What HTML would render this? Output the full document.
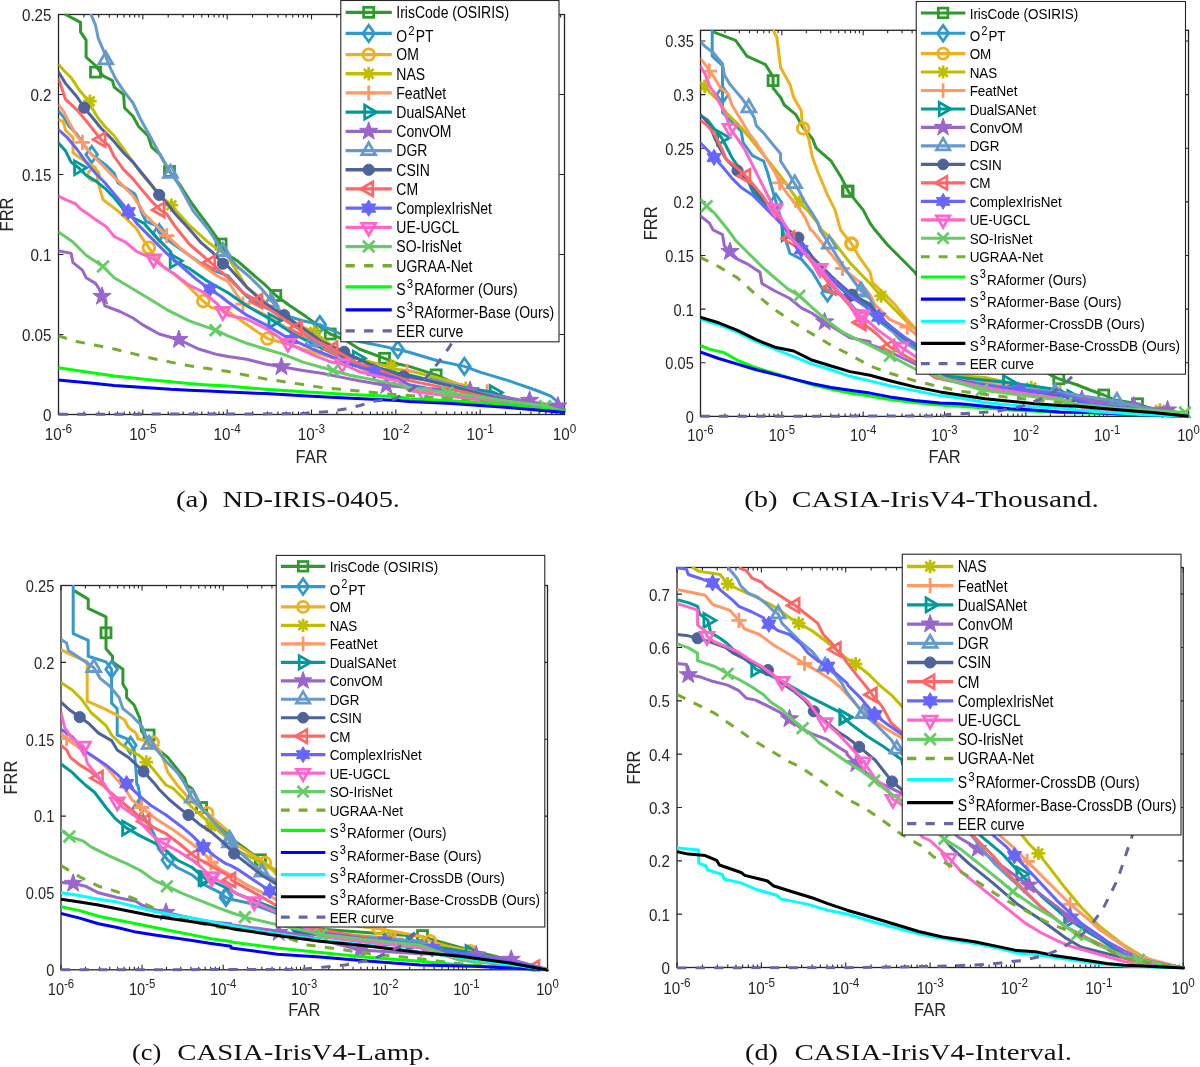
<!DOCTYPE html>
<html><head><meta charset="utf-8"><style>
html,body{margin:0;padding:0;background:#fff;width:1200px;height:1067px;overflow:hidden}
svg{display:block;will-change:transform}
text{font-family:"Liberation Sans",sans-serif}
.tk{font-size:15.2px;fill:#262626}
.lb{font-size:16.5px;fill:#262626}
.lg{font-size:13.8px;fill:#000}
.cap{font-family:"Liberation Serif",serif;font-size:24px;fill:#111}
</style></head><body>
<svg width="1200" height="1067" viewBox="0 0 1200 1067">
<rect width="1200" height="1067" fill="#fff"/>
<path d="M58.50,414.5v-5M58.50,14.5v5M83.89,414.5v-3M83.89,14.5v3M98.74,414.5v-3M98.74,14.5v3M109.27,414.5v-3M109.27,14.5v3M117.45,414.5v-3M117.45,14.5v3M124.12,414.5v-3M124.12,14.5v3M129.77,414.5v-3M129.77,14.5v3M134.66,414.5v-3M134.66,14.5v3M138.97,414.5v-3M138.97,14.5v3M142.83,414.5v-5M142.83,14.5v5M168.22,414.5v-3M168.22,14.5v3M183.07,414.5v-3M183.07,14.5v3M193.61,414.5v-3M193.61,14.5v3M201.78,414.5v-3M201.78,14.5v3M208.46,414.5v-3M208.46,14.5v3M214.10,414.5v-3M214.10,14.5v3M218.99,414.5v-3M218.99,14.5v3M223.31,414.5v-3M223.31,14.5v3M227.17,414.5v-5M227.17,14.5v5M252.55,414.5v-3M252.55,14.5v3M267.40,414.5v-3M267.40,14.5v3M277.94,414.5v-3M277.94,14.5v3M286.11,414.5v-3M286.11,14.5v3M292.79,414.5v-3M292.79,14.5v3M298.44,414.5v-3M298.44,14.5v3M303.33,414.5v-3M303.33,14.5v3M307.64,414.5v-3M307.64,14.5v3M311.50,414.5v-5M311.50,14.5v5M336.89,414.5v-3M336.89,14.5v3M351.74,414.5v-3M351.74,14.5v3M362.27,414.5v-3M362.27,14.5v3M370.45,414.5v-3M370.45,14.5v3M377.12,414.5v-3M377.12,14.5v3M382.77,414.5v-3M382.77,14.5v3M387.66,414.5v-3M387.66,14.5v3M391.97,414.5v-3M391.97,14.5v3M395.83,414.5v-5M395.83,14.5v5M421.22,414.5v-3M421.22,14.5v3M436.07,414.5v-3M436.07,14.5v3M446.61,414.5v-3M446.61,14.5v3M454.78,414.5v-3M454.78,14.5v3M461.46,414.5v-3M461.46,14.5v3M467.10,414.5v-3M467.10,14.5v3M471.99,414.5v-3M471.99,14.5v3M476.31,414.5v-3M476.31,14.5v3M480.17,414.5v-5M480.17,14.5v5M505.55,414.5v-3M505.55,14.5v3M520.40,414.5v-3M520.40,14.5v3M530.94,414.5v-3M530.94,14.5v3M539.11,414.5v-3M539.11,14.5v3M545.79,414.5v-3M545.79,14.5v3M551.44,414.5v-3M551.44,14.5v3M556.33,414.5v-3M556.33,14.5v3M560.64,414.5v-3M560.64,14.5v3M564.50,414.5v-5M564.50,14.5v5M58.5,414.50h5M564.5,414.50h-5M58.5,334.50h5M564.5,334.50h-5M58.5,254.50h5M564.5,254.50h-5M58.5,174.50h5M564.5,174.50h-5M58.5,94.50h5M564.5,94.50h-5M58.5,14.50h5M564.5,14.50h-5" stroke="#262626" stroke-width="1.1" fill="none"/><rect x="58.5" y="14.5" width="506.0" height="400.0" fill="none" stroke="#262626" stroke-width="1.3"/><clipPath id="cpa"><rect x="58.5" y="13.5" width="509.0" height="403.0"/></clipPath><g clip-path="url(#cpa)"><path d="M64.6,14.0L80.5,22.4L80.5,31.8L86.1,40.2L86.1,57.1L95.5,65.5L103.0,75.9L112.4,80.5L114.2,87.1L123.6,94.6L124.5,107.7L133.0,116.2L138.6,126.5L148.0,135.8L151.7,147.1L160.2,154.6L169.5,171.5L179.8,184.6L189.2,199.6L198.6,212.7L208.0,225.2L217.3,238.4L228.0,255.2L237.4,260.9L252.4,274.0L265.5,285.2L275.8,295.5L289.9,305.8L306.7,317.1L330.2,334.0L344.2,339.6L359.2,349.0L384.5,358.3L398.0,364.0L409.2,366.4L436.1,374.9L451.7,382.0L465.8,387.7L487.1,393.3L508.3,400.4L536.7,406.1L565.0,411.7" fill="none" stroke="#2e9a2e" stroke-width="3.0" stroke-linejoin="round"/><rect x="90.5" y="67.1" width="10.0" height="10.0" fill="none" stroke="#2e9a2e" stroke-width="2.80"/><rect x="164.5" y="166.5" width="10.0" height="10.0" fill="none" stroke="#2e9a2e" stroke-width="2.80"/><rect x="216.1" y="239.0" width="10.0" height="10.0" fill="none" stroke="#2e9a2e" stroke-width="2.80"/><rect x="270.8" y="290.5" width="10.0" height="10.0" fill="none" stroke="#2e9a2e" stroke-width="2.80"/><rect x="325.2" y="329.0" width="10.0" height="10.0" fill="none" stroke="#2e9a2e" stroke-width="2.80"/><rect x="379.5" y="353.3" width="10.0" height="10.0" fill="none" stroke="#2e9a2e" stroke-width="2.80"/><rect x="431.1" y="369.9" width="10.0" height="10.0" fill="none" stroke="#2e9a2e" stroke-width="2.80"/><path d="M58.0,110.5L63.6,117.1L69.2,126.5L76.7,134.0L84.2,145.2L91.7,154.6L99.2,160.2L106.7,165.8L114.2,173.3L118.0,182.7L129.2,190.2L134.9,193.9L140.5,208.9L142.3,214.0L146.1,221.5L155.5,225.2L159.2,232.7L170.5,242.1L189.2,255.2L208.0,268.4L228.0,275.9L246.7,296.5L265.5,307.7L284.2,315.2L303.0,320.8L319.8,324.6L340.5,334.0L359.2,341.5L387.3,347.1L398.0,349.9L397.8,349.4L409.2,352.2L437.5,360.7L464.4,366.4L480.0,372.1L508.3,380.6L536.7,390.5L550.8,396.2L559.3,403.2L565.0,410.3" fill="none" stroke="#3399cc" stroke-width="3.0" stroke-linejoin="round"/><path d="M91.7,146.4L97.5,154.6L91.7,162.8L85.9,154.6Z" fill="none" stroke="#3399cc" stroke-width="2.80"/><path d="M159.2,224.5L165.0,232.7L159.2,240.9L153.4,232.7Z" fill="none" stroke="#3399cc" stroke-width="2.80"/><path d="M319.8,316.4L325.6,324.6L319.8,332.8L314.0,324.6Z" fill="none" stroke="#3399cc" stroke-width="2.80"/><path d="M397.8,341.2L403.6,349.4L397.8,357.6L392.0,349.4Z" fill="none" stroke="#3399cc" stroke-width="2.80"/><path d="M464.4,358.2L470.2,366.4L464.4,374.6L458.6,366.4Z" fill="none" stroke="#3399cc" stroke-width="2.80"/><path d="M58.0,119.0L63.6,121.8L65.5,130.2L73.0,137.7L73.0,152.7L80.5,158.3L95.5,167.7L99.2,186.4L103.0,199.6L110.5,205.2L119.9,212.7L129.2,221.5L136.7,229.0L142.3,238.4L148.9,247.7L155.5,257.1L163.0,266.5L174.2,274.0L189.2,287.1L203.3,301.2L211.7,307.7L221.1,309.6L228.0,311.5L246.7,324.6L267.4,338.6L284.2,343.3L303.0,349.0L321.7,354.6L340.5,360.2L359.2,367.7L378.0,375.2L398.0,380.8L409.2,390.5L451.7,396.2L494.2,401.8L536.7,407.5L565.0,412.0" fill="none" stroke="#edb120" stroke-width="3.0" stroke-linejoin="round"/><circle cx="93.6" cy="175.2" r="5.8" fill="none" stroke="#edb120" stroke-width="2.80"/><circle cx="148.9" cy="247.7" r="5.8" fill="none" stroke="#edb120" stroke-width="2.80"/><circle cx="203.3" cy="301.2" r="5.8" fill="none" stroke="#edb120" stroke-width="2.80"/><circle cx="267.4" cy="338.6" r="5.8" fill="none" stroke="#edb120" stroke-width="2.80"/><path d="M58.0,63.7L63.6,70.2L71.1,77.7L78.6,89.0L86.1,98.3L97.4,117.1L104.9,126.5L114.2,135.8L123.6,149.0L133.0,162.1L144.2,177.1L155.5,190.2L164.8,199.6L178.0,212.7L189.2,225.2L208.0,242.1L228.0,257.1L246.7,287.1L265.5,302.1L284.2,319.0L314.2,332.1L331.1,345.2L349.8,356.5L378.0,364.0L398.0,369.6L409.2,370.7L437.5,377.7L465.8,386.2L494.2,394.7L522.5,403.2L565.0,411.7" fill="none" stroke="#bfbf00" stroke-width="3.0" stroke-linejoin="round"/><path d="M83.1,101.2H96.7M89.9,94.4V108.0M85.1,96.4L94.7,106.0M85.1,106.0L94.7,96.4" stroke="#bfbf00" stroke-width="2.80"/><circle cx="89.9" cy="101.2" r="3.2" fill="#bfbf00"/><path d="M164.6,205.2H178.2M171.4,198.4V212.0M166.6,200.4L176.2,210.0M166.6,210.0L176.2,200.4" stroke="#bfbf00" stroke-width="2.80"/><circle cx="171.4" cy="205.2" r="3.2" fill="#bfbf00"/><path d="M307.4,332.1H321.0M314.2,325.3V338.9M309.4,327.3L319.0,336.9M309.4,336.9L319.0,327.3" stroke="#bfbf00" stroke-width="2.80"/><circle cx="314.2" cy="332.1" r="3.2" fill="#bfbf00"/><path d="M384.3,365.8H397.9M391.1,359.0V372.6M386.3,361.0L395.9,370.6M386.3,370.6L395.9,361.0" stroke="#bfbf00" stroke-width="2.80"/><circle cx="391.1" cy="365.8" r="3.2" fill="#bfbf00"/><path d="M459.0,388.4H472.6M465.8,381.6V395.2M461.0,383.6L470.6,393.2M461.0,393.2L470.6,383.6" stroke="#bfbf00" stroke-width="2.80"/><circle cx="465.8" cy="388.4" r="3.2" fill="#bfbf00"/><path d="M58.0,104.0L63.6,111.5L69.2,122.7L76.7,135.8L82.4,142.4L89.9,152.7L95.5,158.3L104.9,167.7L114.2,177.1L123.6,186.4L133.0,195.8L140.5,207.1L144.2,214.0L166.7,235.6L179.8,247.7L198.6,262.7L217.3,275.9L228.0,281.5L243.0,304.0L265.5,315.2L284.2,326.5L303.0,335.8L321.7,347.1L349.8,360.2L378.0,369.6L398.0,375.2L451.7,383.4L487.1,391.9L522.5,401.8L565.0,411.7" fill="none" stroke="#ff9966" stroke-width="3.0" stroke-linejoin="round"/><path d="M74.8,142.4H90.0M82.4,134.8V150.0" stroke="#ff9966" stroke-width="2.80"/><path d="M159.1,235.6H174.3M166.7,228.0V243.2" stroke="#ff9966" stroke-width="2.80"/><path d="M235.4,304.0H250.6M243.0,296.4V311.6" stroke="#ff9966" stroke-width="2.80"/><path d="M314.1,347.1H329.3M321.7,339.5V354.7" stroke="#ff9966" stroke-width="2.80"/><path d="M399.4,371.4H414.6M407.0,363.8V379.0" stroke="#ff9966" stroke-width="2.80"/><path d="M479.5,391.9H494.7M487.1,384.3V399.5" stroke="#ff9966" stroke-width="2.80"/><path d="M58.0,142.4L65.5,150.8L71.1,162.1L78.6,167.7L86.1,175.2L95.5,180.8L104.9,188.3L114.2,197.7L121.7,207.1L125.5,214.0L144.2,223.4L155.5,236.5L170.5,251.5L174.2,260.9L189.2,268.4L208.0,281.5L228.0,292.7L246.7,305.8L273.0,320.8L293.6,334.0L312.3,343.3L331.1,352.7L357.3,358.3L378.0,367.7L398.0,373.3L409.2,374.9L437.5,382.0L465.8,387.7L494.2,392.6L508.3,399.0L536.7,404.7L565.0,411.7" fill="none" stroke="#009999" stroke-width="3.0" stroke-linejoin="round"/><path d="M86.6,167.7L74.6,174.6L74.6,160.8Z" fill="none" stroke="#009999" stroke-width="2.80"/><path d="M182.2,260.9L170.2,267.8L170.2,253.9Z" fill="none" stroke="#009999" stroke-width="2.80"/><path d="M281.0,320.8L269.0,327.8L269.0,313.9Z" fill="none" stroke="#009999" stroke-width="2.80"/><path d="M365.3,358.3L353.3,365.3L353.3,351.4Z" fill="none" stroke="#009999" stroke-width="2.80"/><path d="M502.2,392.6L490.2,399.6L490.2,385.7Z" fill="none" stroke="#009999" stroke-width="2.80"/><path d="M58.0,250.6L71.1,253.4L73.0,262.7L82.4,270.2L86.1,277.7L95.5,283.4L99.2,289.0L102.0,296.5L104.9,305.8L119.9,311.5L133.0,318.0L142.3,324.6L159.2,334.0L178.9,339.6L198.6,349.0L217.3,354.6L228.0,356.5L246.7,359.3L265.5,364.0L281.4,366.8L303.0,370.5L321.7,373.3L340.5,377.1L359.2,380.8L386.4,385.5L398.0,386.4L409.2,387.7L437.5,389.1L470.1,391.2L508.3,397.6L529.6,401.8L557.9,406.1L565.0,411.7" fill="none" stroke="#9966cc" stroke-width="3.0" stroke-linejoin="round"/><path d="M102.0,286.9L104.3,293.4L111.2,293.5L105.7,297.7L107.7,304.2L102.0,300.3L96.4,304.2L98.4,297.7L92.9,293.5L99.8,293.4Z" fill="#9966cc" stroke="#9966cc" stroke-width="1"/><path d="M178.9,330.0L181.2,336.5L188.0,336.6L182.6,340.8L184.5,347.4L178.9,343.4L173.3,347.4L175.2,340.8L169.8,336.6L176.6,336.5Z" fill="#9966cc" stroke="#9966cc" stroke-width="1"/><path d="M281.4,357.2L283.7,363.7L290.6,363.8L285.1,368.0L287.1,374.5L281.4,370.6L275.8,374.5L277.8,368.0L272.3,363.8L279.2,363.7Z" fill="#9966cc" stroke="#9966cc" stroke-width="1"/><path d="M386.4,375.9L388.6,382.4L395.5,382.5L390.0,386.7L392.0,393.3L386.4,389.3L380.7,393.3L382.7,386.7L377.3,382.5L384.1,382.4Z" fill="#9966cc" stroke="#9966cc" stroke-width="1"/><path d="M470.1,380.9L472.3,387.4L479.2,387.5L473.7,391.7L475.7,398.3L470.1,394.3L464.4,398.3L466.4,391.7L461.0,387.5L467.8,387.4Z" fill="#9966cc" stroke="#9966cc" stroke-width="1"/><path d="M529.6,390.8L531.8,397.3L538.7,397.4L533.2,401.6L535.2,408.2L529.6,404.3L523.9,408.2L525.9,401.6L520.4,397.4L527.3,397.3Z" fill="#9966cc" stroke="#9966cc" stroke-width="1"/><path d="M557.9,396.5L560.2,403.0L567.0,403.1L561.6,407.3L563.6,413.8L557.9,409.9L552.3,413.8L554.3,407.3L548.8,403.1L555.7,403.0Z" fill="#9966cc" stroke="#9966cc" stroke-width="1"/><path d="M90.8,14.0L95.5,25.2L98.3,38.4L103.9,51.5L110.5,68.4L116.1,79.6L123.6,90.9L133.0,103.0L140.5,119.0L149.8,135.8L163.0,160.2L179.8,186.4L193.0,210.8L208.0,229.0L222.9,251.5L228.0,256.2L237.4,266.5L250.5,277.7L261.7,289.0L280.5,311.5L293.6,322.7L312.3,341.5L331.1,350.8L349.8,362.1L378.0,371.5L398.0,377.1L437.5,380.6L480.0,393.3L522.5,403.2L565.0,411.7" fill="none" stroke="#6699cc" stroke-width="3.0" stroke-linejoin="round"/><path d="M105.8,51.9L112.7,63.9L98.9,63.9Z" fill="none" stroke="#6699cc" stroke-width="2.80"/><path d="M170.5,165.3L177.4,177.3L163.5,177.3Z" fill="none" stroke="#6699cc" stroke-width="2.80"/><path d="M222.9,243.5L229.9,255.5L216.0,255.5Z" fill="none" stroke="#6699cc" stroke-width="2.80"/><path d="M271.1,294.1L278.0,306.1L264.2,306.1Z" fill="none" stroke="#6699cc" stroke-width="2.80"/><path d="M312.3,333.5L319.3,345.5L305.4,345.5Z" fill="none" stroke="#6699cc" stroke-width="2.80"/><path d="M58.0,71.2L65.5,83.4L76.7,96.5L84.2,107.7L93.6,119.0L101.1,128.3L112.4,139.6L123.6,152.7L133.0,162.1L140.5,171.5L149.8,182.7L159.2,194.9L168.6,205.2L174.2,212.7L189.2,229.0L200.5,242.1L213.6,253.4L222.9,263.7L228.0,266.5L246.7,287.1L265.5,304.0L284.2,315.2L303.0,328.3L321.7,341.5L344.2,351.8L368.6,364.0L398.0,375.2L409.2,376.3L451.7,386.2L494.2,397.6L536.7,406.1L565.0,411.7" fill="none" stroke="#4d6399" stroke-width="3.0" stroke-linejoin="round"/><circle cx="84.2" cy="107.7" r="5.6" fill="#4d6399" stroke="#4d6399" stroke-width="1"/><circle cx="159.2" cy="194.9" r="5.6" fill="#4d6399" stroke="#4d6399" stroke-width="1"/><circle cx="222.9" cy="263.7" r="5.6" fill="#4d6399" stroke="#4d6399" stroke-width="1"/><circle cx="284.2" cy="315.2" r="5.6" fill="#4d6399" stroke="#4d6399" stroke-width="1"/><circle cx="344.2" cy="351.8" r="5.6" fill="#4d6399" stroke="#4d6399" stroke-width="1"/><circle cx="403.5" cy="376.3" r="5.6" fill="#4d6399" stroke="#4d6399" stroke-width="1"/><path d="M58.0,77.7L60.8,85.2L65.5,99.3L76.7,109.6L86.1,120.8L93.6,130.2L101.1,139.6L108.6,145.2L114.2,156.5L123.6,169.6L133.0,178.9L142.3,190.2L151.7,201.4L160.2,209.9L166.7,214.0L174.2,225.2L189.2,244.0L210.8,262.7L219.2,270.2L228.0,277.7L243.0,292.7L258.0,301.2L274.9,313.3L297.4,328.3L314.2,339.6L333.0,349.0L359.2,364.0L378.0,369.6L398.0,377.1L409.2,380.6L451.7,389.1L494.2,399.0L536.7,407.5L565.0,411.7" fill="none" stroke="#ff6666" stroke-width="3.0" stroke-linejoin="round"/><path d="M93.1,139.6L105.1,132.7L105.1,146.5Z" fill="none" stroke="#ff6666" stroke-width="2.80"/><path d="M152.2,209.9L164.2,202.9L164.2,216.8Z" fill="none" stroke="#ff6666" stroke-width="2.80"/><path d="M202.8,262.7L214.8,255.8L214.8,269.7Z" fill="none" stroke="#ff6666" stroke-width="2.80"/><path d="M250.0,301.2L262.0,294.2L262.0,308.1Z" fill="none" stroke="#ff6666" stroke-width="2.80"/><path d="M289.4,328.3L301.4,321.4L301.4,335.3Z" fill="none" stroke="#ff6666" stroke-width="2.80"/><path d="M325.0,349.0L337.0,342.0L337.0,355.9Z" fill="none" stroke="#ff6666" stroke-width="2.80"/><path d="M58.0,129.3L67.4,137.7L76.7,149.0L86.1,162.1L95.5,173.3L104.9,182.7L114.2,193.9L123.6,205.2L128.3,211.8L136.7,223.4L151.7,238.4L166.7,253.4L181.7,266.5L196.7,279.6L209.8,289.0L221.1,296.5L228.0,302.1L246.7,315.2L265.5,324.6L284.2,335.8L312.3,349.0L331.1,356.5L349.8,364.0L374.2,371.5L398.0,378.9L409.2,384.8L451.7,393.3L494.2,400.4L536.7,407.5L565.0,411.7" fill="none" stroke="#6666ff" stroke-width="3.0" stroke-linejoin="round"/><path d="M128.3,203.6L130.7,207.7L135.4,207.7L133.0,211.8L135.4,215.9L130.7,215.8L128.3,220.0L125.9,215.8L121.2,215.9L123.6,211.8L121.2,207.7L125.9,207.7Z" fill="#6666ff" stroke="#6666ff" stroke-width="1"/><path d="M209.8,280.8L212.2,284.9L216.9,284.9L214.6,289.0L216.9,293.1L212.2,293.1L209.8,297.2L207.5,293.1L202.7,293.1L205.1,289.0L202.7,284.9L207.5,284.9Z" fill="#6666ff" stroke="#6666ff" stroke-width="1"/><path d="M291.7,331.4L294.1,335.5L298.8,335.5L296.5,339.6L298.8,343.7L294.1,343.7L291.7,347.8L289.4,343.7L284.6,343.7L287.0,339.6L284.6,335.5L289.4,335.5Z" fill="#6666ff" stroke="#6666ff" stroke-width="1"/><path d="M374.2,363.3L376.6,367.4L381.3,367.4L378.9,371.5L381.3,375.6L376.6,375.5L374.2,379.7L371.8,375.5L367.1,375.6L369.5,371.5L367.1,367.4L371.8,367.4Z" fill="#6666ff" stroke="#6666ff" stroke-width="1"/><path d="M58.0,195.8L65.5,199.6L74.9,203.3L80.5,208.9L88.0,214.0L95.5,219.6L106.7,227.1L114.2,236.5L125.5,242.1L136.7,251.5L153.6,259.0L163.0,266.5L174.2,274.0L189.2,285.2L204.2,292.7L217.3,304.0L222.9,311.5L228.0,315.2L246.7,319.0L265.5,328.3L288.0,343.3L312.3,354.6L331.1,362.1L342.3,364.0L359.2,371.5L387.3,378.9L398.0,380.8L409.2,390.5L451.7,396.2L494.2,401.8L536.7,408.2L565.0,412.0" fill="none" stroke="#ff66cc" stroke-width="3.0" stroke-linejoin="round"/><path d="M153.6,267.0L146.7,255.0L160.5,255.0Z" fill="none" stroke="#ff66cc" stroke-width="2.80"/><path d="M222.9,319.5L216.0,307.5L229.9,307.5Z" fill="none" stroke="#ff66cc" stroke-width="2.80"/><path d="M288.0,351.3L281.1,339.3L294.9,339.3Z" fill="none" stroke="#ff66cc" stroke-width="2.80"/><path d="M342.3,372.0L335.4,360.0L349.3,360.0Z" fill="none" stroke="#ff66cc" stroke-width="2.80"/><path d="M423.3,400.6L416.4,388.6L430.3,388.6Z" fill="none" stroke="#ff66cc" stroke-width="2.80"/><path d="M58.0,231.8L73.0,242.1L86.1,255.2L103.0,266.5L114.2,277.7L133.0,289.0L151.7,300.2L166.7,309.6L189.2,320.8L215.5,330.2L228.0,335.8L246.7,343.3L265.5,349.0L284.2,354.6L303.0,362.1L333.0,370.5L349.8,375.2L368.6,378.9L398.0,384.6L409.2,387.7L447.4,392.6L494.2,399.0L545.2,406.1L565.0,411.7" fill="none" stroke="#66cc66" stroke-width="3.0" stroke-linejoin="round"/><path d="M97.2,260.7L108.8,272.3M97.2,272.3L108.8,260.7" stroke="#66cc66" stroke-width="2.80"/><path d="M209.7,324.4L221.3,336.0M209.7,336.0L221.3,324.4" stroke="#66cc66" stroke-width="2.80"/><path d="M327.2,364.7L338.8,376.3M327.2,376.3L338.8,364.7" stroke="#66cc66" stroke-width="2.80"/><path d="M441.6,386.8L453.2,398.4M441.6,398.4L453.2,386.8" stroke="#66cc66" stroke-width="2.80"/><path d="M539.4,400.3L551.0,411.9M539.4,411.9L551.0,400.3" stroke="#66cc66" stroke-width="2.80"/><path d="M58.0,335.8L76.7,341.5L95.5,345.2L114.2,349.0L133.0,353.6L151.7,358.3L170.5,362.1L189.2,365.8L208.0,368.6L228.0,371.5L246.7,375.2L265.5,378.9L284.2,381.8L303.0,384.6L321.7,387.4L340.5,389.3L359.2,391.1L378.0,393.0L398.0,394.9L409.2,395.5L437.5,397.6L480.0,401.8L522.5,406.1L565.0,412.0" fill="none" stroke="#77ac30" stroke-width="3.0" stroke-linejoin="round" stroke-dasharray="9.3,9.3"/><path d="M58.0,367.7L76.7,370.5L95.5,373.3L114.2,376.1L133.0,378.0L151.7,379.9L170.5,381.8L189.2,383.6L208.0,384.9L228.0,386.1L265.5,389.3L303.0,391.7L340.5,393.9L378.0,395.8L398.0,396.8L409.2,398.7L451.7,400.7L508.3,404.7L565.0,412.0" fill="none" stroke="#00ff00" stroke-width="3.0" stroke-linejoin="round"/><path d="M58.0,379.9L76.7,381.8L95.5,383.6L114.2,385.5L133.0,386.8L151.7,387.9L170.5,389.3L189.2,390.2L208.0,391.1L228.0,392.1L265.5,393.6L303.0,395.8L340.5,397.7L378.0,399.6L398.0,400.5L409.2,401.5L451.7,403.5L508.3,407.5L565.0,412.6" fill="none" stroke="#0000ff" stroke-width="3.0" stroke-linejoin="round"/><path d="M58.5,414.3L300.0,413.8L330.0,411.5L345.0,409.0L360.0,405.5L375.0,401.0L395.0,399.0L403.5,394.0L412.0,389.1L426.2,377.7L437.5,363.6L448.8,348.0L454.5,338.1" fill="none" stroke="#6666a3" stroke-width="3.0" stroke-linejoin="round" stroke-dasharray="9.3,9.3"/></g><text transform="translate(51.50,421.10) scale(1,1.12)" class="tk" text-anchor="end" style="font-size:15.20px">0</text><text transform="translate(51.50,341.10) scale(1,1.12)" class="tk" text-anchor="end" style="font-size:15.20px">0.05</text><text transform="translate(51.50,261.10) scale(1,1.12)" class="tk" text-anchor="end" style="font-size:15.20px">0.1</text><text transform="translate(51.50,181.10) scale(1,1.12)" class="tk" text-anchor="end" style="font-size:15.20px">0.15</text><text transform="translate(51.50,101.10) scale(1,1.12)" class="tk" text-anchor="end" style="font-size:15.20px">0.2</text><text transform="translate(51.50,21.10) scale(1,1.12)" class="tk" text-anchor="end" style="font-size:15.20px">0.25</text><text transform="translate(58.50,440.00) scale(1,1.12)" class="tk" text-anchor="middle" style="font-size:15.20px">10<tspan dy="-6.20" style="font-size:11.80px">-6</tspan></text><text transform="translate(142.83,440.00) scale(1,1.12)" class="tk" text-anchor="middle" style="font-size:15.20px">10<tspan dy="-6.20" style="font-size:11.80px">-5</tspan></text><text transform="translate(227.17,440.00) scale(1,1.12)" class="tk" text-anchor="middle" style="font-size:15.20px">10<tspan dy="-6.20" style="font-size:11.80px">-4</tspan></text><text transform="translate(311.50,440.00) scale(1,1.12)" class="tk" text-anchor="middle" style="font-size:15.20px">10<tspan dy="-6.20" style="font-size:11.80px">-3</tspan></text><text transform="translate(395.83,440.00) scale(1,1.12)" class="tk" text-anchor="middle" style="font-size:15.20px">10<tspan dy="-6.20" style="font-size:11.80px">-2</tspan></text><text transform="translate(480.17,440.00) scale(1,1.12)" class="tk" text-anchor="middle" style="font-size:15.20px">10<tspan dy="-6.20" style="font-size:11.80px">-1</tspan></text><text transform="translate(564.50,440.00) scale(1,1.12)" class="tk" text-anchor="middle" style="font-size:15.20px">10<tspan dy="-6.20" style="font-size:11.80px">0</tspan></text><text transform="translate(311.50,462.70) scale(1,1.12)" class="lb" text-anchor="middle" style="font-size:16.50px">FAR</text><text transform="translate(13.1,214.5) rotate(-90) scale(1,1.12)" text-anchor="middle" class="lb" style="font-size:16.5px">FRR</text><rect x="340.80" y="0.50" width="218.20" height="341.30" fill="#fff" stroke="#262626" stroke-width="1.1"/><path d="M345.60,12.35h46.20" stroke="#2e9a2e" stroke-width="3.30"/><rect x="363.7" y="7.3" width="10.0" height="10.0" fill="none" stroke="#2e9a2e" stroke-width="2.80"/><text transform="translate(396.30,18.15) scale(1,1.12)" class="lg" style="font-size:14.00px">IrisCode (OSIRIS)</text><path d="M345.60,33.45h46.20" stroke="#3399cc" stroke-width="3.30"/><path d="M368.7,25.3L374.5,33.5L368.7,41.7L362.9,33.5Z" fill="none" stroke="#3399cc" stroke-width="2.80"/><text transform="translate(396.30,41.85) scale(1,1.12)" class="lg" style="font-size:14.00px">O<tspan dx="1.10" dy="-6.30" font-size="11.50">2</tspan><tspan dx="1.10" dy="6.30">PT</tspan></text><path d="M345.60,54.55h46.20" stroke="#edb120" stroke-width="3.30"/><circle cx="368.7" cy="54.6" r="5.8" fill="none" stroke="#edb120" stroke-width="2.80"/><text transform="translate(396.30,60.35) scale(1,1.12)" class="lg" style="font-size:14.00px">OM</text><path d="M345.60,73.75h46.20" stroke="#bfbf00" stroke-width="3.30"/><path d="M361.9,73.8H375.5M368.7,67.0V80.5M363.9,68.9L373.5,78.6M363.9,78.6L373.5,68.9" stroke="#bfbf00" stroke-width="2.80"/><circle cx="368.7" cy="73.8" r="3.2" fill="#bfbf00"/><text transform="translate(396.30,79.55) scale(1,1.12)" class="lg" style="font-size:14.00px">NAS</text><path d="M345.60,92.95h46.20" stroke="#ff9966" stroke-width="3.30"/><path d="M361.1,93.0H376.3M368.7,85.4V100.5" stroke="#ff9966" stroke-width="2.80"/><text transform="translate(396.30,98.75) scale(1,1.12)" class="lg" style="font-size:14.00px">FeatNet</text><path d="M345.60,112.15h46.20" stroke="#009999" stroke-width="3.30"/><path d="M376.7,112.2L364.7,119.1L364.7,105.2Z" fill="none" stroke="#009999" stroke-width="2.80"/><text transform="translate(396.30,117.95) scale(1,1.12)" class="lg" style="font-size:14.00px">DualSANet</text><path d="M345.60,131.35h46.20" stroke="#9966cc" stroke-width="3.30"/><path d="M368.7,121.8L371.0,128.2L377.8,128.4L372.4,132.5L374.3,139.1L368.7,135.2L363.1,139.1L365.0,132.5L359.6,128.4L366.4,128.2Z" fill="#9966cc" stroke="#9966cc" stroke-width="1"/><text transform="translate(396.30,137.15) scale(1,1.12)" class="lg" style="font-size:14.00px">ConvOM</text><path d="M345.60,150.55h46.20" stroke="#6699cc" stroke-width="3.30"/><path d="M368.7,142.6L375.6,154.6L361.8,154.6Z" fill="none" stroke="#6699cc" stroke-width="2.80"/><text transform="translate(396.30,156.35) scale(1,1.12)" class="lg" style="font-size:14.00px">DGR</text><path d="M345.60,169.75h46.20" stroke="#4d6399" stroke-width="3.30"/><circle cx="368.7" cy="169.8" r="5.6" fill="#4d6399" stroke="#4d6399" stroke-width="1"/><text transform="translate(396.30,175.55) scale(1,1.12)" class="lg" style="font-size:14.00px">CSIN</text><path d="M345.60,188.95h46.20" stroke="#ff6666" stroke-width="3.30"/><path d="M360.7,188.9L372.7,182.0L372.7,195.9Z" fill="none" stroke="#ff6666" stroke-width="2.80"/><text transform="translate(396.30,194.75) scale(1,1.12)" class="lg" style="font-size:14.00px">CM</text><path d="M345.60,208.15h46.20" stroke="#6666ff" stroke-width="3.30"/><path d="M368.7,199.9L371.1,204.1L375.8,204.0L373.4,208.1L375.8,212.2L371.1,212.2L368.7,216.3L366.3,212.2L361.6,212.2L364.0,208.1L361.6,204.0L366.3,204.1Z" fill="#6666ff" stroke="#6666ff" stroke-width="1"/><text transform="translate(396.30,213.95) scale(1,1.12)" class="lg" style="font-size:14.00px">ComplexIrisNet</text><path d="M345.60,227.35h46.20" stroke="#ff66cc" stroke-width="3.30"/><path d="M368.7,235.3L361.8,223.3L375.6,223.3Z" fill="none" stroke="#ff66cc" stroke-width="2.80"/><text transform="translate(396.30,233.15) scale(1,1.12)" class="lg" style="font-size:14.00px">UE-UGCL</text><path d="M345.60,246.55h46.20" stroke="#66cc66" stroke-width="3.30"/><path d="M362.9,240.7L374.5,252.3M362.9,252.3L374.5,240.7" stroke="#66cc66" stroke-width="2.80"/><text transform="translate(396.30,252.35) scale(1,1.12)" class="lg" style="font-size:14.00px">SO-IrisNet</text><path d="M345.60,265.75h46.20" stroke="#77ac30" stroke-width="3.30" stroke-dasharray="9.20,9.30"/><text transform="translate(396.30,271.55) scale(1,1.12)" class="lg" style="font-size:14.00px">UGRAA-Net</text><path d="M345.60,286.85h46.20" stroke="#00ff00" stroke-width="3.30"/><text transform="translate(396.30,295.25) scale(1,1.12)" class="lg" style="font-size:14.00px">S<tspan dx="1.10" dy="-6.30" font-size="11.50">3</tspan><tspan dx="1.10" dy="6.30">RAformer (Ours)</tspan></text><path d="M345.60,309.85h46.20" stroke="#0000ff" stroke-width="3.30"/><text transform="translate(396.30,318.25) scale(1,1.12)" class="lg" style="font-size:14.00px">S<tspan dx="1.10" dy="-6.30" font-size="11.50">3</tspan><tspan dx="1.10" dy="6.30">RAformer-Base (Ours)</tspan></text><path d="M345.60,330.95h46.20" stroke="#6666a3" stroke-width="3.30" stroke-dasharray="9.20,9.30"/><text transform="translate(396.30,336.75) scale(1,1.12)" class="lg" style="font-size:14.00px">EER curve</text><text x="176.0" y="507.0" class="cap" textLength="32.0" lengthAdjust="spacingAndGlyphs">(a)</text><text x="222.4" y="507.0" class="cap" textLength="177.6" lengthAdjust="spacingAndGlyphs">ND-IRIS-0405.</text><path d="M700.50,416.4v-5M700.50,30.3v5M724.98,416.4v-3M724.98,30.3v3M739.31,416.4v-3M739.31,30.3v3M749.47,416.4v-3M749.47,30.3v3M757.35,416.4v-3M757.35,30.3v3M763.79,416.4v-3M763.79,30.3v3M769.23,416.4v-3M769.23,30.3v3M773.95,416.4v-3M773.95,30.3v3M778.11,416.4v-3M778.11,30.3v3M781.83,416.4v-5M781.83,30.3v5M806.32,416.4v-3M806.32,30.3v3M820.64,416.4v-3M820.64,30.3v3M830.80,416.4v-3M830.80,30.3v3M838.68,416.4v-3M838.68,30.3v3M845.12,416.4v-3M845.12,30.3v3M850.57,416.4v-3M850.57,30.3v3M855.28,416.4v-3M855.28,30.3v3M859.45,416.4v-3M859.45,30.3v3M863.17,416.4v-5M863.17,30.3v5M887.65,416.4v-3M887.65,30.3v3M901.97,416.4v-3M901.97,30.3v3M912.13,416.4v-3M912.13,30.3v3M920.02,416.4v-3M920.02,30.3v3M926.46,416.4v-3M926.46,30.3v3M931.90,416.4v-3M931.90,30.3v3M936.62,416.4v-3M936.62,30.3v3M940.78,416.4v-3M940.78,30.3v3M944.50,416.4v-5M944.50,30.3v5M968.98,416.4v-3M968.98,30.3v3M983.31,416.4v-3M983.31,30.3v3M993.47,416.4v-3M993.47,30.3v3M1001.35,416.4v-3M1001.35,30.3v3M1007.79,416.4v-3M1007.79,30.3v3M1013.23,416.4v-3M1013.23,30.3v3M1017.95,416.4v-3M1017.95,30.3v3M1022.11,416.4v-3M1022.11,30.3v3M1025.83,416.4v-5M1025.83,30.3v5M1050.32,416.4v-3M1050.32,30.3v3M1064.64,416.4v-3M1064.64,30.3v3M1074.80,416.4v-3M1074.80,30.3v3M1082.68,416.4v-3M1082.68,30.3v3M1089.12,416.4v-3M1089.12,30.3v3M1094.57,416.4v-3M1094.57,30.3v3M1099.28,416.4v-3M1099.28,30.3v3M1103.45,416.4v-3M1103.45,30.3v3M1107.17,416.4v-5M1107.17,30.3v5M1131.65,416.4v-3M1131.65,30.3v3M1145.97,416.4v-3M1145.97,30.3v3M1156.13,416.4v-3M1156.13,30.3v3M1164.02,416.4v-3M1164.02,30.3v3M1170.46,416.4v-3M1170.46,30.3v3M1175.90,416.4v-3M1175.90,30.3v3M1180.62,416.4v-3M1180.62,30.3v3M1184.78,416.4v-3M1184.78,30.3v3M1188.50,416.4v-5M1188.50,30.3v5M700.5,416.40h5M1188.5,416.40h-5M700.5,362.77h5M1188.5,362.77h-5M700.5,309.15h5M1188.5,309.15h-5M700.5,255.52h5M1188.5,255.52h-5M700.5,201.90h5M1188.5,201.90h-5M700.5,148.28h5M1188.5,148.28h-5M700.5,94.65h5M1188.5,94.65h-5M700.5,41.02h5M1188.5,41.02h-5" stroke="#262626" stroke-width="1.1" fill="none"/><rect x="700.5" y="30.3" width="488.0" height="386.1" fill="none" stroke="#262626" stroke-width="1.3"/><clipPath id="cpb"><rect x="700.5" y="29.3" width="491.0" height="389.1"/></clipPath><g clip-path="url(#cpb)"><path d="M713.1,31.9L735.6,40.3L746.9,56.2L765.6,64.7L773.1,76.9L773.1,88.1L780.6,97.5L784.3,105.0L795.6,114.3L803.1,127.5L812.5,138.7L816.2,148.1L831.2,161.2L840.6,176.2L848.1,191.2L855.6,200.6L863.1,209.9L870.0,223.1L874.9,229.8L887.4,244.8L899.9,257.2L914.8,272.2L934.8,299.6L1052.5,376.2L1058.8,378.8L1077.5,385.0L1090.0,390.0L1103.8,395.0L1115.0,400.0L1137.5,403.8L1152.5,408.8L1177.5,412.5L1187.5,415.0L1188.5,416.3" fill="none" stroke="#2e9a2e" stroke-width="3.0" stroke-linejoin="round"/><rect x="768.1" y="75.6" width="10.0" height="10.0" fill="none" stroke="#2e9a2e" stroke-width="2.80"/><rect x="843.1" y="186.2" width="10.0" height="10.0" fill="none" stroke="#2e9a2e" stroke-width="2.80"/><rect x="842.5" y="186.1" width="10.0" height="10.0" fill="none" stroke="#2e9a2e" stroke-width="2.80"/><rect x="1053.8" y="373.8" width="10.0" height="10.0" fill="none" stroke="#2e9a2e" stroke-width="2.80"/><rect x="1098.8" y="390.0" width="10.0" height="10.0" fill="none" stroke="#2e9a2e" stroke-width="2.80"/><rect x="1132.5" y="398.8" width="10.0" height="10.0" fill="none" stroke="#2e9a2e" stroke-width="2.80"/><path d="M712.2,30.0L712.2,56.2L722.5,65.6L722.5,86.2L722.5,112.5L733.7,123.7L741.2,131.2L743.1,142.5L752.5,155.6L763.7,161.2L767.5,172.5L775.0,198.7L780.6,217.4L782.5,230.0L790.0,253.5L801.2,259.1L812.5,272.2L823.7,291.0L842.5,294.7L855.6,309.7L870.0,313.5L889.9,329.6L916.1,347.0L947.5,377.5L997.5,385.0L1035.0,390.0L1060.0,393.8L1116.9,403.8L1152.5,410.0L1177.5,413.1L1188.5,416.3" fill="none" stroke="#3399cc" stroke-width="3.0" stroke-linejoin="round"/><path d="M722.5,86.5L728.3,94.7L722.5,102.9L716.7,94.7Z" fill="none" stroke="#3399cc" stroke-width="2.80"/><path d="M775.9,194.2L781.7,202.4L775.9,210.6L770.1,202.4Z" fill="none" stroke="#3399cc" stroke-width="2.80"/><path d="M827.5,284.7L833.3,292.9L827.5,301.1L821.7,292.9Z" fill="none" stroke="#3399cc" stroke-width="2.80"/><path d="M773.1,30.0L776.9,37.5L780.6,67.5L790.0,84.4L793.7,97.5L801.2,110.6L802.2,121.8L808.7,138.7L812.5,157.5L818.1,172.5L827.5,194.9L835.0,209.9L840.6,230.0L851.8,244.1L859.3,257.2L870.0,272.2L872.4,282.2L882.4,292.1L894.9,304.6L907.3,319.6L916.1,329.6L960.0,377.5L997.5,381.2L1035.0,386.2L1060.0,392.5L1090.0,400.0L1140.0,407.5L1177.5,412.5L1188.5,416.3" fill="none" stroke="#edb120" stroke-width="3.0" stroke-linejoin="round"/><circle cx="803.1" cy="128.4" r="5.8" fill="none" stroke="#edb120" stroke-width="2.80"/><circle cx="851.8" cy="244.1" r="5.8" fill="none" stroke="#edb120" stroke-width="2.80"/><circle cx="851.2" cy="243.5" r="5.8" fill="none" stroke="#edb120" stroke-width="2.80"/><path d="M700.0,82.5L711.2,93.7L718.7,101.2L726.2,112.5L733.7,120.0L741.2,127.5L750.6,138.7L765.6,157.5L780.6,176.2L790.0,189.3L799.3,202.4L808.7,211.8L816.2,221.2L821.8,230.0L831.2,238.5L850.0,262.9L870.0,283.5L881.1,295.9L894.9,309.6L907.3,322.1L916.1,329.6L947.5,375.0L985.0,377.5L1031.2,387.5L1060.0,391.2L1068.8,398.8L1098.8,403.1L1160.0,410.0L1188.5,416.3" fill="none" stroke="#bfbf00" stroke-width="3.0" stroke-linejoin="round"/><path d="M697.9,86.2H711.5M704.7,79.4V93.0M699.9,81.4L709.5,91.0M699.9,91.0L709.5,81.4" stroke="#bfbf00" stroke-width="2.80"/><circle cx="704.7" cy="86.2" r="3.2" fill="#bfbf00"/><path d="M792.5,202.4H806.1M799.3,195.6V209.2M794.5,197.6L804.2,207.3M794.5,207.3L804.2,197.6" stroke="#bfbf00" stroke-width="2.80"/><circle cx="799.3" cy="202.4" r="3.2" fill="#bfbf00"/><path d="M874.3,295.9H887.9M881.1,289.1V302.7M876.3,291.1L886.0,300.7M876.3,300.7L886.0,291.1" stroke="#bfbf00" stroke-width="2.80"/><circle cx="881.1" cy="295.9" r="3.2" fill="#bfbf00"/><path d="M1024.5,387.5H1038.0M1031.2,380.7V394.3M1026.4,382.7L1036.1,392.3M1026.4,392.3L1036.1,382.7" stroke="#bfbf00" stroke-width="2.80"/><circle cx="1031.2" cy="387.5" r="3.2" fill="#bfbf00"/><path d="M1092.0,403.1H1105.5M1098.8,396.3V409.9M1093.9,398.3L1103.6,407.9M1093.9,407.9L1103.6,398.3" stroke="#bfbf00" stroke-width="2.80"/><circle cx="1098.8" cy="403.1" r="3.2" fill="#bfbf00"/><path d="M1153.2,410.0H1166.8M1160.0,403.2V416.8M1155.2,405.2L1164.8,414.8M1155.2,414.8L1164.8,405.2" stroke="#bfbf00" stroke-width="2.80"/><circle cx="1160.0" cy="410.0" r="3.2" fill="#bfbf00"/><path d="M700.0,58.1L707.5,67.5L715.0,78.7L720.6,88.1L728.1,93.7L731.9,105.0L737.5,114.3L741.2,120.0L748.7,133.1L756.2,142.5L765.6,157.5L775.0,172.5L779.7,182.8L788.1,194.9L797.5,206.2L805.0,217.4L810.6,230.0L812.5,231.0L827.5,249.7L842.5,268.5L859.3,281.6L870.0,294.7L874.9,304.6L889.9,319.6L907.3,327.1L916.1,334.5L947.5,377.5L997.5,383.8L1035.0,388.8L1060.0,392.5L1090.0,401.2L1140.0,407.5L1177.5,412.5L1188.5,416.3" fill="none" stroke="#ff9966" stroke-width="3.0" stroke-linejoin="round"/><path d="M701.8,71.2H717.0M709.4,63.6V78.8" stroke="#ff9966" stroke-width="2.80"/><path d="M772.1,182.8H787.3M779.7,175.2V190.4" stroke="#ff9966" stroke-width="2.80"/><path d="M834.9,268.5H850.1M842.5,260.9V276.1" stroke="#ff9966" stroke-width="2.80"/><path d="M899.7,327.1H914.9M907.3,319.5V334.7" stroke="#ff9966" stroke-width="2.80"/><path d="M1052.4,392.5H1067.6M1060.0,384.9V400.1" stroke="#ff9966" stroke-width="2.80"/><path d="M700.0,115.3L707.5,120.0L713.1,127.5L721.6,137.8L726.2,146.2L731.9,157.5L739.4,168.7L746.9,178.1L752.5,191.2L763.7,202.4L775.0,213.7L788.1,230.0L793.7,238.5L805.0,253.5L820.0,270.4L831.2,279.7L850.0,296.6L870.0,306.0L877.4,314.6L899.9,334.5L916.1,347.0L947.5,376.2L1007.5,382.5L1060.0,390.0L1071.9,397.5L1115.0,403.8L1152.5,409.4L1188.5,416.3" fill="none" stroke="#009999" stroke-width="3.0" stroke-linejoin="round"/><path d="M729.6,137.8L717.6,144.7L717.6,130.9Z" fill="none" stroke="#009999" stroke-width="2.80"/><path d="M794.2,233.8L782.2,240.7L782.2,226.9Z" fill="none" stroke="#009999" stroke-width="2.80"/><path d="M1015.5,382.5L1003.5,389.4L1003.5,375.6Z" fill="none" stroke="#009999" stroke-width="2.80"/><path d="M1079.9,397.5L1067.9,404.4L1067.9,390.6Z" fill="none" stroke="#009999" stroke-width="2.80"/><path d="M700.0,215.6L709.4,223.1L713.1,230.0L722.5,234.7L724.4,246.0L730.0,251.6L737.5,259.1L748.7,264.7L760.0,272.2L761.9,283.5L775.0,291.0L790.0,298.5L801.2,307.8L812.5,313.5L824.6,321.9L835.0,328.5L850.0,337.8L870.0,341.6L869.9,344.5L889.9,352.0L916.1,364.5L935.0,377.5L985.0,386.2L1060.0,395.0L1081.9,399.4L1133.8,406.2L1167.5,410.0L1188.5,416.3" fill="none" stroke="#9966cc" stroke-width="3.0" stroke-linejoin="round"/><path d="M730.0,242.0L732.2,248.5L739.1,248.6L733.6,252.8L735.6,259.4L730.0,255.5L724.3,259.4L726.3,252.8L720.9,248.6L727.7,248.5Z" fill="#9966cc" stroke="#9966cc" stroke-width="1"/><path d="M824.6,312.3L826.9,318.8L833.8,318.9L828.3,323.1L830.3,329.7L824.6,325.7L819.0,329.7L821.0,323.1L815.5,318.9L822.4,318.8Z" fill="#9966cc" stroke="#9966cc" stroke-width="1"/><path d="M1081.9,389.8L1084.1,396.3L1091.0,396.4L1085.5,400.6L1087.5,407.1L1081.9,403.2L1076.2,407.1L1078.2,400.6L1072.7,396.4L1079.6,396.3Z" fill="#9966cc" stroke="#9966cc" stroke-width="1"/><path d="M1133.8,396.6L1136.0,403.1L1142.9,403.3L1137.4,407.4L1139.4,414.0L1133.8,410.1L1128.1,414.0L1130.1,407.4L1124.6,403.3L1131.5,403.1Z" fill="#9966cc" stroke="#9966cc" stroke-width="1"/><path d="M1167.5,400.4L1169.8,406.9L1176.6,407.0L1171.2,411.2L1173.1,417.8L1167.5,413.8L1161.9,417.8L1163.8,411.2L1158.4,407.0L1165.2,406.9Z" fill="#9966cc" stroke="#9966cc" stroke-width="1"/><path d="M700.0,41.2L705.6,46.9L713.1,52.5L722.5,63.7L724.4,75.0L730.0,84.4L741.2,97.5L748.7,107.8L754.4,118.1L756.2,125.6L763.7,133.1L771.2,142.5L780.6,153.7L780.6,161.2L788.1,172.5L794.7,183.7L799.3,191.2L805.0,202.4L812.5,213.7L818.1,223.1L820.0,230.0L829.3,244.1L838.7,259.1L850.0,276.0L861.2,291.0L870.0,298.5L874.9,309.6L888.6,327.1L899.9,339.5L916.1,349.5L947.5,378.8L997.5,386.2L1035.0,390.0L1060.0,392.5L1116.9,401.2L1152.5,410.0L1177.5,413.8L1188.5,416.3" fill="none" stroke="#6699cc" stroke-width="3.0" stroke-linejoin="round"/><path d="M748.7,99.8L755.7,111.8L741.8,111.8Z" fill="none" stroke="#6699cc" stroke-width="2.80"/><path d="M794.7,175.7L801.6,187.7L787.7,187.7Z" fill="none" stroke="#6699cc" stroke-width="2.80"/><path d="M829.3,236.1L836.3,248.1L822.4,248.1Z" fill="none" stroke="#6699cc" stroke-width="2.80"/><path d="M861.2,283.0L868.1,295.0L854.3,295.0Z" fill="none" stroke="#6699cc" stroke-width="2.80"/><path d="M860.0,284.1L866.9,296.1L853.0,296.1Z" fill="none" stroke="#6699cc" stroke-width="2.80"/><path d="M1055.0,384.5L1061.9,396.5L1048.1,396.5Z" fill="none" stroke="#6699cc" stroke-width="2.80"/><path d="M1116.9,393.2L1123.8,405.2L1109.9,405.2Z" fill="none" stroke="#6699cc" stroke-width="2.80"/><path d="M700.0,114.3L705.6,120.0L711.2,129.3L715.0,138.7L718.7,146.2L726.2,159.3L737.5,170.6L746.9,180.0L756.2,191.2L765.6,202.4L775.0,211.8L782.5,223.1L788.1,230.0L798.4,237.6L812.5,257.2L831.2,276.0L851.8,294.7L870.0,304.1L879.9,319.6L899.9,334.5L916.1,344.5L947.5,378.8L997.5,387.5L1060.0,395.0L1090.0,405.0L1140.0,411.2L1188.5,416.3" fill="none" stroke="#4d6399" stroke-width="3.0" stroke-linejoin="round"/><circle cx="737.5" cy="170.6" r="5.6" fill="#4d6399" stroke="#4d6399" stroke-width="1"/><circle cx="798.4" cy="237.6" r="5.6" fill="#4d6399" stroke="#4d6399" stroke-width="1"/><circle cx="851.8" cy="294.7" r="5.6" fill="#4d6399" stroke="#4d6399" stroke-width="1"/><circle cx="850.0" cy="295.9" r="5.6" fill="#4d6399" stroke="#4d6399" stroke-width="1"/><path d="M700.0,120.0L707.5,125.6L715.0,135.0L722.5,150.0L726.2,159.3L733.7,165.0L745.9,176.2L752.5,183.7L761.9,194.9L769.4,206.2L776.9,215.6L786.2,230.0L788.1,236.6L797.5,244.1L812.5,262.9L827.5,281.6L835.0,289.1L850.0,306.0L861.2,322.8L870.0,328.5L877.4,334.5L889.9,347.0L916.1,362.0L935.0,377.5L985.0,388.8L1060.0,398.8L1090.0,410.0L1140.0,413.8L1188.5,416.3" fill="none" stroke="#ff6666" stroke-width="3.0" stroke-linejoin="round"/><path d="M737.9,176.2L749.9,169.3L749.9,183.1Z" fill="none" stroke="#ff6666" stroke-width="2.80"/><path d="M782.0,238.5L794.0,231.6L794.0,245.4Z" fill="none" stroke="#ff6666" stroke-width="2.80"/><path d="M823.2,287.2L835.2,280.3L835.2,294.2Z" fill="none" stroke="#ff6666" stroke-width="2.80"/><path d="M853.2,322.8L865.2,315.9L865.2,329.8Z" fill="none" stroke="#ff6666" stroke-width="2.80"/><path d="M853.2,322.1L865.2,315.1L865.2,329.0Z" fill="none" stroke="#ff6666" stroke-width="2.80"/><path d="M881.9,347.0L893.9,340.1L893.9,353.9Z" fill="none" stroke="#ff6666" stroke-width="2.80"/><path d="M700.0,142.5L707.5,150.0L714.1,157.5L722.5,166.8L731.9,178.1L741.2,187.5L752.5,194.9L761.9,204.3L771.2,213.7L780.6,223.1L786.2,230.0L790.0,234.7L801.2,249.7L816.2,264.7L835.0,281.6L853.7,298.5L870.0,309.7L878.7,317.1L894.9,329.6L907.3,339.5L916.1,344.5L947.5,380.0L1018.8,390.0L1060.0,393.8L1090.0,403.8L1140.0,410.0L1188.5,416.3" fill="none" stroke="#6666ff" stroke-width="3.0" stroke-linejoin="round"/><path d="M714.1,149.3L716.4,153.4L721.2,153.4L718.8,157.5L721.2,161.6L716.4,161.6L714.1,165.7L711.7,161.6L707.0,161.6L709.3,157.5L707.0,153.4L711.7,153.4Z" fill="#6666ff" stroke="#6666ff" stroke-width="1"/><path d="M801.2,241.5L803.6,245.6L808.3,245.6L805.9,249.7L808.3,253.8L803.6,253.8L801.2,257.9L798.9,253.8L794.1,253.8L796.5,249.7L794.1,245.6L798.9,245.6Z" fill="#6666ff" stroke="#6666ff" stroke-width="1"/><path d="M878.7,308.9L881.0,313.0L885.8,313.0L883.4,317.1L885.8,321.2L881.0,321.2L878.7,325.3L876.3,321.2L871.6,321.2L873.9,317.1L871.6,313.0L876.3,313.0Z" fill="#6666ff" stroke="#6666ff" stroke-width="1"/><path d="M1018.8,381.8L1021.1,385.9L1025.9,385.9L1023.5,390.0L1025.9,394.1L1021.1,394.1L1018.8,398.2L1016.4,394.1L1011.6,394.1L1014.0,390.0L1011.6,385.9L1016.4,385.9Z" fill="#6666ff" stroke="#6666ff" stroke-width="1"/><path d="M700.0,65.6L705.6,75.0L709.4,86.2L715.0,93.7L720.6,105.0L726.2,116.2L730.0,128.4L737.5,138.7L745.0,150.0L752.5,165.0L758.1,176.2L763.7,187.5L769.4,198.7L775.0,209.0L780.6,217.4L788.1,230.0L788.1,234.7L805.0,253.5L820.0,268.5L835.0,287.2L850.0,304.1L861.2,317.2L870.0,322.8L877.4,329.6L901.1,347.0L916.1,357.0L935.0,376.2L985.0,387.5L1060.0,398.8L1090.0,410.0L1140.0,413.8L1188.5,416.3" fill="none" stroke="#ff66cc" stroke-width="3.0" stroke-linejoin="round"/><path d="M730.0,136.4L723.1,124.4L736.9,124.4Z" fill="none" stroke="#ff66cc" stroke-width="2.80"/><path d="M775.0,217.0L768.0,205.0L781.9,205.0Z" fill="none" stroke="#ff66cc" stroke-width="2.80"/><path d="M820.0,276.5L813.0,264.5L826.9,264.5Z" fill="none" stroke="#ff66cc" stroke-width="2.80"/><path d="M861.2,325.2L854.3,313.2L868.1,313.2Z" fill="none" stroke="#ff66cc" stroke-width="2.80"/><path d="M861.2,322.6L854.3,310.6L868.1,310.6Z" fill="none" stroke="#ff66cc" stroke-width="2.80"/><path d="M901.1,355.0L894.2,343.0L908.0,343.0Z" fill="none" stroke="#ff66cc" stroke-width="2.80"/><path d="M700.0,198.7L706.6,206.2L715.0,213.7L728.1,230.0L735.6,240.4L748.7,253.5L761.9,266.6L776.9,279.7L788.1,289.1L799.3,295.7L812.5,307.8L827.5,321.0L842.5,332.2L857.5,339.7L870.0,345.3L889.9,355.7L916.1,369.5L981.9,390.0L1010.0,393.8L1060.0,400.0L1066.2,403.1L1115.0,408.1L1185.0,412.5L1188.5,416.3" fill="none" stroke="#66cc66" stroke-width="3.0" stroke-linejoin="round"/><path d="M700.8,200.4L712.4,212.0M700.8,212.0L712.4,200.4" stroke="#66cc66" stroke-width="2.80"/><path d="M793.5,289.9L805.1,301.5M793.5,301.5L805.1,289.9" stroke="#66cc66" stroke-width="2.80"/><path d="M884.1,349.9L895.7,361.5M884.1,361.5L895.7,349.9" stroke="#66cc66" stroke-width="2.80"/><path d="M976.1,384.2L987.7,395.8M976.1,395.8L987.7,384.2" stroke="#66cc66" stroke-width="2.80"/><path d="M1060.5,397.3L1072.0,408.9M1060.5,408.9L1072.0,397.3" stroke="#66cc66" stroke-width="2.80"/><path d="M1179.2,406.7L1190.8,418.3M1179.2,418.3L1190.8,406.7" stroke="#66cc66" stroke-width="2.80"/><path d="M700.0,257.2L718.7,266.6L737.5,277.9L756.2,294.7L775.0,309.7L793.7,322.8L812.5,334.1L831.2,345.3L850.0,354.7L870.0,366.0L889.9,373.2L914.8,380.7L940.0,386.9L960.0,391.2L1010.0,397.5L1060.0,402.5L1090.0,408.8L1140.0,413.1L1188.5,416.3" fill="none" stroke="#77ac30" stroke-width="3.0" stroke-linejoin="round" stroke-dasharray="9.3,9.3"/><path d="M700.0,345.3L709.4,349.1L724.4,352.8L737.5,360.3L756.2,367.8L775.0,373.5L793.7,379.1L812.5,384.7L831.2,389.4L850.0,393.1L870.0,395.9L889.9,399.4L914.8,402.4L940.0,404.9L960.0,406.2L985.0,408.1L1010.0,410.0L1035.0,411.2L1060.0,412.5L1090.0,413.1L1140.0,415.0L1188.5,416.3" fill="none" stroke="#00ff00" stroke-width="3.0" stroke-linejoin="round"/><path d="M700.0,351.9L718.7,358.5L737.5,364.1L756.2,369.7L775.0,374.4L793.7,379.1L812.5,383.8L831.2,387.5L850.0,390.3L870.0,393.1L889.9,396.9L914.8,400.6L940.0,403.1L960.0,403.8L985.0,406.2L1010.0,408.8L1035.0,410.0L1060.0,411.9L1090.0,412.5L1140.0,415.0L1188.5,416.3" fill="none" stroke="#0000ff" stroke-width="3.0" stroke-linejoin="round"/><path d="M700.0,319.1L718.7,324.7L737.5,332.2L756.2,341.6L775.0,349.1L793.7,356.6L812.5,364.1L831.2,369.7L850.0,376.3L870.0,380.9L889.9,385.7L914.8,390.6L940.0,395.6L960.0,398.1L985.0,402.5L1010.0,405.0L1035.0,406.9L1060.0,408.1L1090.0,411.2L1140.0,414.4L1188.5,416.3" fill="none" stroke="#00ffff" stroke-width="3.0" stroke-linejoin="round"/><path d="M700.0,317.2L718.7,322.8L737.5,330.3L756.2,339.7L775.0,347.2L793.7,351.0L812.5,360.3L831.2,366.0L850.0,371.6L870.0,375.3L889.9,380.7L914.8,386.9L940.0,391.9L960.0,395.0L985.0,398.8L1010.0,401.2L1035.0,403.8L1060.0,405.6L1077.5,406.2L1115.0,409.4L1152.5,412.5L1188.5,416.3" fill="none" stroke="#000000" stroke-width="3.0" stroke-linejoin="round"/><path d="M700.5,416.3L944.0,416.0L947.5,414.4L972.5,413.1L997.5,411.2L1022.5,406.2L1047.5,396.2L1060.0,387.5L1062.5,386.2L1073.8,375.0L1081.2,365.0" fill="none" stroke="#6666a3" stroke-width="3.0" stroke-linejoin="round" stroke-dasharray="9.3,9.3"/></g><text transform="translate(693.77,422.75) scale(1,1.12)" class="tk" text-anchor="end" style="font-size:14.62px">0</text><text transform="translate(693.77,369.12) scale(1,1.12)" class="tk" text-anchor="end" style="font-size:14.62px">0.05</text><text transform="translate(693.77,315.50) scale(1,1.12)" class="tk" text-anchor="end" style="font-size:14.62px">0.1</text><text transform="translate(693.77,261.87) scale(1,1.12)" class="tk" text-anchor="end" style="font-size:14.62px">0.15</text><text transform="translate(693.77,208.25) scale(1,1.12)" class="tk" text-anchor="end" style="font-size:14.62px">0.2</text><text transform="translate(693.77,154.62) scale(1,1.12)" class="tk" text-anchor="end" style="font-size:14.62px">0.25</text><text transform="translate(693.77,101.00) scale(1,1.12)" class="tk" text-anchor="end" style="font-size:14.62px">0.3</text><text transform="translate(693.77,47.37) scale(1,1.12)" class="tk" text-anchor="end" style="font-size:14.62px">0.35</text><text transform="translate(700.50,441.00) scale(1,1.12)" class="tk" text-anchor="middle" style="font-size:14.62px">10<tspan dy="-5.96" style="font-size:11.35px">-6</tspan></text><text transform="translate(781.83,441.00) scale(1,1.12)" class="tk" text-anchor="middle" style="font-size:14.62px">10<tspan dy="-5.96" style="font-size:11.35px">-5</tspan></text><text transform="translate(863.17,441.00) scale(1,1.12)" class="tk" text-anchor="middle" style="font-size:14.62px">10<tspan dy="-5.96" style="font-size:11.35px">-4</tspan></text><text transform="translate(944.50,441.00) scale(1,1.12)" class="tk" text-anchor="middle" style="font-size:14.62px">10<tspan dy="-5.96" style="font-size:11.35px">-3</tspan></text><text transform="translate(1025.83,441.00) scale(1,1.12)" class="tk" text-anchor="middle" style="font-size:14.62px">10<tspan dy="-5.96" style="font-size:11.35px">-2</tspan></text><text transform="translate(1107.17,441.00) scale(1,1.12)" class="tk" text-anchor="middle" style="font-size:14.62px">10<tspan dy="-5.96" style="font-size:11.35px">-1</tspan></text><text transform="translate(1188.50,441.00) scale(1,1.12)" class="tk" text-anchor="middle" style="font-size:14.62px">10<tspan dy="-5.96" style="font-size:11.35px">0</tspan></text><text transform="translate(944.50,462.50) scale(1,1.12)" class="lb" text-anchor="middle" style="font-size:16.50px">FAR</text><text transform="translate(656.5,223.3) rotate(-90) scale(1,1.12)" text-anchor="middle" class="lb" style="font-size:16.5px">FRR</text><rect x="916.25" y="1.50" width="269.25" height="372.70" fill="#fff" stroke="#262626" stroke-width="1.1"/><path d="M920.87,12.96h44.44" stroke="#2e9a2e" stroke-width="3.17"/><rect x="938.3" y="8.1" width="9.6" height="9.6" fill="none" stroke="#2e9a2e" stroke-width="2.69"/><text transform="translate(969.64,18.54) scale(1,1.12)" class="lg" style="font-size:13.47px">IrisCode (OSIRIS)</text><path d="M920.87,33.26h44.44" stroke="#3399cc" stroke-width="3.17"/><path d="M943.1,25.4L948.7,33.3L943.1,41.1L937.5,33.3Z" fill="none" stroke="#3399cc" stroke-width="2.69"/><text transform="translate(969.64,41.34) scale(1,1.12)" class="lg" style="font-size:13.47px">O<tspan dx="1.06" dy="-6.06" font-size="11.06">2</tspan><tspan dx="1.06" dy="6.06">PT</tspan></text><path d="M920.87,53.55h44.44" stroke="#edb120" stroke-width="3.17"/><circle cx="943.1" cy="53.6" r="5.6" fill="none" stroke="#edb120" stroke-width="2.69"/><text transform="translate(969.64,59.13) scale(1,1.12)" class="lg" style="font-size:13.47px">OM</text><path d="M920.87,72.03h44.44" stroke="#bfbf00" stroke-width="3.17"/><path d="M936.5,72.0H949.6M943.1,65.5V78.6M938.5,67.4L947.7,76.7M938.5,76.7L947.7,67.4" stroke="#bfbf00" stroke-width="2.69"/><circle cx="943.1" cy="72.0" r="3.1" fill="#bfbf00"/><text transform="translate(969.64,77.60) scale(1,1.12)" class="lg" style="font-size:13.47px">NAS</text><path d="M920.87,90.50h44.44" stroke="#ff9966" stroke-width="3.17"/><path d="M935.8,90.5H950.4M943.1,83.2V97.8" stroke="#ff9966" stroke-width="2.69"/><text transform="translate(969.64,96.08) scale(1,1.12)" class="lg" style="font-size:13.47px">FeatNet</text><path d="M920.87,108.97h44.44" stroke="#009999" stroke-width="3.17"/><path d="M950.8,109.0L939.2,115.6L939.2,102.3Z" fill="none" stroke="#009999" stroke-width="2.69"/><text transform="translate(969.64,114.55) scale(1,1.12)" class="lg" style="font-size:13.47px">DualSANet</text><path d="M920.87,127.44h44.44" stroke="#9966cc" stroke-width="3.17"/><path d="M943.1,118.2L945.3,124.4L951.9,124.6L946.6,128.6L948.5,134.9L943.1,131.1L937.7,134.9L939.6,128.6L934.3,124.6L940.9,124.4Z" fill="#9966cc" stroke="#9966cc" stroke-width="1"/><text transform="translate(969.64,133.02) scale(1,1.12)" class="lg" style="font-size:13.47px">ConvOM</text><path d="M920.87,145.91h44.44" stroke="#6699cc" stroke-width="3.17"/><path d="M943.1,138.2L949.8,149.8L936.4,149.8Z" fill="none" stroke="#6699cc" stroke-width="2.69"/><text transform="translate(969.64,151.49) scale(1,1.12)" class="lg" style="font-size:13.47px">DGR</text><path d="M920.87,164.38h44.44" stroke="#4d6399" stroke-width="3.17"/><circle cx="943.1" cy="164.4" r="5.4" fill="#4d6399" stroke="#4d6399" stroke-width="1"/><text transform="translate(969.64,169.96) scale(1,1.12)" class="lg" style="font-size:13.47px">CSIN</text><path d="M920.87,182.85h44.44" stroke="#ff6666" stroke-width="3.17"/><path d="M935.4,182.8L946.9,176.2L946.9,189.5Z" fill="none" stroke="#ff6666" stroke-width="2.69"/><text transform="translate(969.64,188.43) scale(1,1.12)" class="lg" style="font-size:13.47px">CM</text><path d="M920.87,201.32h44.44" stroke="#6666ff" stroke-width="3.17"/><path d="M943.1,193.4L945.4,197.4L949.9,197.4L947.6,201.3L949.9,205.3L945.4,205.3L943.1,209.2L940.8,205.3L936.3,205.3L938.5,201.3L936.3,197.4L940.8,197.4Z" fill="#6666ff" stroke="#6666ff" stroke-width="1"/><text transform="translate(969.64,206.90) scale(1,1.12)" class="lg" style="font-size:13.47px">ComplexIrisNet</text><path d="M920.87,219.79h44.44" stroke="#ff66cc" stroke-width="3.17"/><path d="M943.1,227.5L936.4,215.9L949.8,215.9Z" fill="none" stroke="#ff66cc" stroke-width="2.69"/><text transform="translate(969.64,225.37) scale(1,1.12)" class="lg" style="font-size:13.47px">UE-UGCL</text><path d="M920.87,238.26h44.44" stroke="#66cc66" stroke-width="3.17"/><path d="M937.5,232.7L948.7,243.8M937.5,243.8L948.7,232.7" stroke="#66cc66" stroke-width="2.69"/><text transform="translate(969.64,243.84) scale(1,1.12)" class="lg" style="font-size:13.47px">SO-IrisNet</text><path d="M920.87,256.73h44.44" stroke="#77ac30" stroke-width="3.17" stroke-dasharray="8.85,8.95"/><text transform="translate(969.64,262.31) scale(1,1.12)" class="lg" style="font-size:13.47px">UGRAA-Net</text><path d="M920.87,277.03h44.44" stroke="#00ff00" stroke-width="3.17"/><text transform="translate(969.64,285.11) scale(1,1.12)" class="lg" style="font-size:13.47px">S<tspan dx="1.06" dy="-6.06" font-size="11.06">3</tspan><tspan dx="1.06" dy="6.06">RAformer (Ours)</tspan></text><path d="M920.87,299.15h44.44" stroke="#0000ff" stroke-width="3.17"/><text transform="translate(969.64,307.23) scale(1,1.12)" class="lg" style="font-size:13.47px">S<tspan dx="1.06" dy="-6.06" font-size="11.06">3</tspan><tspan dx="1.06" dy="6.06">RAformer-Base (Ours)</tspan></text><path d="M920.87,321.28h44.44" stroke="#00ffff" stroke-width="3.17"/><text transform="translate(969.64,329.36) scale(1,1.12)" class="lg" style="font-size:13.47px">S<tspan dx="1.06" dy="-6.06" font-size="11.06">3</tspan><tspan dx="1.06" dy="6.06">RAformer-CrossDB (Ours)</tspan></text><path d="M920.87,343.41h44.44" stroke="#000000" stroke-width="3.17"/><text transform="translate(969.64,351.49) scale(1,1.12)" class="lg" style="font-size:13.47px">S<tspan dx="1.06" dy="-6.06" font-size="11.06">3</tspan><tspan dx="1.06" dy="6.06">RAformer-Base-CrossDB (Ours)</tspan></text><path d="M920.87,363.70h44.44" stroke="#6666a3" stroke-width="3.17" stroke-dasharray="8.85,8.95"/><text transform="translate(969.64,369.28) scale(1,1.12)" class="lg" style="font-size:13.47px">EER curve</text><text x="744.3" y="507.0" class="cap" textLength="33.2" lengthAdjust="spacingAndGlyphs">(b)</text><text x="791.8" y="507.0" class="cap" textLength="307.1" lengthAdjust="spacingAndGlyphs">CASIA-IrisV4-Thousand.</text><path d="M61.00,969.8v-5M61.00,585.5v5M85.41,969.8v-3M85.41,585.5v3M99.69,969.8v-3M99.69,585.5v3M109.82,969.8v-3M109.82,585.5v3M117.67,969.8v-3M117.67,585.5v3M124.10,969.8v-3M124.10,585.5v3M129.52,969.8v-3M129.52,585.5v3M134.23,969.8v-3M134.23,585.5v3M138.37,969.8v-3M138.37,585.5v3M142.08,969.8v-5M142.08,585.5v5M166.49,969.8v-3M166.49,585.5v3M180.77,969.8v-3M180.77,585.5v3M190.90,969.8v-3M190.90,585.5v3M198.76,969.8v-3M198.76,585.5v3M205.18,969.8v-3M205.18,585.5v3M210.61,969.8v-3M210.61,585.5v3M215.31,969.8v-3M215.31,585.5v3M219.46,969.8v-3M219.46,585.5v3M223.17,969.8v-5M223.17,585.5v5M247.58,969.8v-3M247.58,585.5v3M261.85,969.8v-3M261.85,585.5v3M271.98,969.8v-3M271.98,585.5v3M279.84,969.8v-3M279.84,585.5v3M286.26,969.8v-3M286.26,585.5v3M291.69,969.8v-3M291.69,585.5v3M296.39,969.8v-3M296.39,585.5v3M300.54,969.8v-3M300.54,585.5v3M304.25,969.8v-5M304.25,585.5v5M328.66,969.8v-3M328.66,585.5v3M342.94,969.8v-3M342.94,585.5v3M353.07,969.8v-3M353.07,585.5v3M360.92,969.8v-3M360.92,585.5v3M367.35,969.8v-3M367.35,585.5v3M372.77,969.8v-3M372.77,585.5v3M377.48,969.8v-3M377.48,585.5v3M381.62,969.8v-3M381.62,585.5v3M385.33,969.8v-5M385.33,585.5v5M409.74,969.8v-3M409.74,585.5v3M424.02,969.8v-3M424.02,585.5v3M434.15,969.8v-3M434.15,585.5v3M442.01,969.8v-3M442.01,585.5v3M448.43,969.8v-3M448.43,585.5v3M453.86,969.8v-3M453.86,585.5v3M458.56,969.8v-3M458.56,585.5v3M462.71,969.8v-3M462.71,585.5v3M466.42,969.8v-5M466.42,585.5v5M490.83,969.8v-3M490.83,585.5v3M505.10,969.8v-3M505.10,585.5v3M515.23,969.8v-3M515.23,585.5v3M523.09,969.8v-3M523.09,585.5v3M529.51,969.8v-3M529.51,585.5v3M534.94,969.8v-3M534.94,585.5v3M539.64,969.8v-3M539.64,585.5v3M543.79,969.8v-3M543.79,585.5v3M547.50,969.8v-5M547.50,585.5v5M61.0,969.80h5M547.5,969.80h-5M61.0,892.94h5M547.5,892.94h-5M61.0,816.08h5M547.5,816.08h-5M61.0,739.22h5M547.5,739.22h-5M61.0,662.36h5M547.5,662.36h-5M61.0,585.50h5M547.5,585.50h-5" stroke="#262626" stroke-width="1.1" fill="none"/><rect x="61.0" y="585.5" width="486.5" height="384.3" fill="none" stroke="#262626" stroke-width="1.3"/><clipPath id="cpc"><rect x="61.0" y="584.5" width="489.5" height="387.3"/></clipPath><g clip-path="url(#cpc)"><path d="M74.1,590.6L88.2,599.1L88.2,608.4L106.0,616.9L106.0,648.7L112.5,656.2L112.5,661.9L122.9,669.3L122.9,684.3L126.6,690.0L126.6,697.5L134.1,705.0L139.7,718.1L141.6,731.2L151.0,742.5L158.5,749.9L167.8,757.4L175.3,766.8L184.7,778.1L186.6,785.0L192.2,788.7L201.6,807.5L216.6,822.5L231.0,835.6L231.0,838.1L260.4,859.8L280.5,875.3L286.2,926.2L332.5,930.0L382.5,933.8L420.0,936.2L460.0,947.5L510.0,960.0L547.5,969.8" fill="none" stroke="#2e9a2e" stroke-width="3.0" stroke-linejoin="round"/><rect x="101.0" y="627.8" width="10.0" height="10.0" fill="none" stroke="#2e9a2e" stroke-width="2.80"/><rect x="144.1" y="730.0" width="10.0" height="10.0" fill="none" stroke="#2e9a2e" stroke-width="2.80"/><rect x="196.6" y="802.5" width="10.0" height="10.0" fill="none" stroke="#2e9a2e" stroke-width="2.80"/><rect x="255.4" y="854.8" width="10.0" height="10.0" fill="none" stroke="#2e9a2e" stroke-width="2.80"/><rect x="417.5" y="930.6" width="10.0" height="10.0" fill="none" stroke="#2e9a2e" stroke-width="2.80"/><path d="M73.2,585.0L73.2,633.7L88.2,640.3L88.2,656.2L106.0,661.9L111.6,669.3L111.6,703.1L117.2,708.7L117.2,735.0L126.6,738.7L134.1,749.9L136.0,770.6L136.9,785.0L137.9,785.0L139.7,794.4L139.7,807.5L143.5,816.9L151.0,828.1L154.7,835.6L158.5,848.7L167.8,860.0L177.2,867.5L192.2,875.0L203.5,884.3L218.5,891.8L225.9,897.5L231.0,899.3L249.5,903.2L274.3,912.4L320.0,936.2L370.0,942.5L420.0,947.5L447.5,953.8L497.5,961.2L535.0,967.5L547.5,969.8" fill="none" stroke="#3399cc" stroke-width="3.0" stroke-linejoin="round"/><path d="M111.6,661.1L117.4,669.3L111.6,677.5L105.8,669.3Z" fill="none" stroke="#3399cc" stroke-width="2.80"/><path d="M130.4,737.1L136.2,745.3L130.4,753.5L124.6,745.3Z" fill="none" stroke="#3399cc" stroke-width="2.80"/><path d="M137.9,801.2L143.7,809.4L137.9,817.6L132.1,809.4Z" fill="none" stroke="#3399cc" stroke-width="2.80"/><path d="M167.8,851.8L173.6,860.0L167.8,868.2L162.0,860.0Z" fill="none" stroke="#3399cc" stroke-width="2.80"/><path d="M225.9,889.3L231.7,897.5L225.9,905.7L220.1,897.5Z" fill="none" stroke="#3399cc" stroke-width="2.80"/><path d="M226.3,887.2L232.1,895.4L226.3,903.6L220.5,895.4Z" fill="none" stroke="#3399cc" stroke-width="2.80"/><path d="M61.0,649.7L70.4,654.4L87.2,661.9L87.2,701.2L104.1,708.7L115.4,714.3L124.7,720.0L128.5,727.5L136.0,733.1L137.9,738.7L152.8,742.5L160.3,751.8L164.1,761.2L167.8,772.4L173.5,779.9L177.2,785.0L177.2,785.0L192.2,801.9L207.2,813.1L222.2,826.2L231.0,833.7L231.0,841.2L265.0,862.9L277.4,875.3L357.5,926.2L378.8,928.8L420.0,936.2L430.0,941.2L447.5,946.2L470.0,951.2L485.0,957.5L510.0,962.5L535.0,967.5L547.5,969.8" fill="none" stroke="#edb120" stroke-width="3.0" stroke-linejoin="round"/><circle cx="152.8" cy="742.5" r="5.8" fill="none" stroke="#edb120" stroke-width="2.80"/><circle cx="207.2" cy="813.1" r="5.8" fill="none" stroke="#edb120" stroke-width="2.80"/><circle cx="265.0" cy="862.9" r="5.8" fill="none" stroke="#edb120" stroke-width="2.80"/><circle cx="378.8" cy="928.1" r="5.8" fill="none" stroke="#edb120" stroke-width="2.80"/><circle cx="430.0" cy="941.2" r="5.8" fill="none" stroke="#edb120" stroke-width="2.80"/><circle cx="470.0" cy="951.2" r="5.8" fill="none" stroke="#edb120" stroke-width="2.80"/><path d="M61.0,682.5L72.2,690.0L81.6,699.3L91.0,712.5L106.0,725.6L111.6,735.0L121.0,744.3L132.2,751.8L139.7,755.6L146.3,762.1L152.8,768.7L160.3,778.1L166.0,785.0L173.5,788.7L192.2,807.5L211.0,824.4L231.0,841.2L231.0,847.4L274.3,869.1L320.0,932.5L382.5,937.5L420.0,942.5L447.5,951.2L497.5,961.2L535.0,967.5L547.5,969.8" fill="none" stroke="#bfbf00" stroke-width="3.0" stroke-linejoin="round"/><path d="M139.5,762.1H153.1M146.3,755.3V768.9M141.5,757.3L151.1,766.9M141.5,766.9L151.1,757.3" stroke="#bfbf00" stroke-width="2.80"/><circle cx="146.3" cy="762.1" r="3.2" fill="#bfbf00"/><path d="M204.2,826.2H217.8M211.0,819.4V833.0M206.1,821.4L215.8,831.0M206.1,831.0L215.8,821.4" stroke="#bfbf00" stroke-width="2.80"/><circle cx="211.0" cy="826.2" r="3.2" fill="#bfbf00"/><path d="M381.9,936.9H395.6M388.8,930.1V943.7M383.9,932.1L393.6,941.7M383.9,941.7L393.6,932.1" stroke="#bfbf00" stroke-width="2.80"/><circle cx="388.8" cy="936.9" r="3.2" fill="#bfbf00"/><path d="M434.4,950.0H448.1M441.2,943.2V956.8M436.4,945.2L446.1,954.8M436.4,954.8L446.1,945.2" stroke="#bfbf00" stroke-width="2.80"/><circle cx="441.2" cy="950.0" r="3.2" fill="#bfbf00"/><path d="M61.0,733.1L66.6,738.7L79.7,748.1L94.7,757.4L106.0,766.8L117.2,779.9L124.7,788.7L132.2,800.0L141.6,807.5L151.0,815.0L158.5,820.6L173.5,830.0L188.5,841.2L203.5,852.5L211.0,861.8L220.3,869.3L231.0,875.0L246.4,884.6L277.4,900.1L295.0,930.0L345.0,936.2L395.0,941.2L420.0,943.8L460.0,956.2L510.0,963.8L547.5,969.8" fill="none" stroke="#ff9966" stroke-width="3.0" stroke-linejoin="round"/><path d="M59.0,738.7H74.2M66.6,731.1V746.3" stroke="#ff9966" stroke-width="2.80"/><path d="M134.0,807.5H149.2M141.6,799.9V815.1" stroke="#ff9966" stroke-width="2.80"/><path d="M203.4,861.8H218.6M211.0,854.2V869.4" stroke="#ff9966" stroke-width="2.80"/><path d="M203.2,862.9H218.4M210.8,855.3V870.5" stroke="#ff9966" stroke-width="2.80"/><path d="M387.4,938.8H402.6M395.0,931.1V946.4" stroke="#ff9966" stroke-width="2.80"/><path d="M61.0,764.0L72.2,772.4L77.9,778.1L85.4,785.0L94.7,792.5L106.0,807.5L115.4,818.7L126.6,828.1L139.7,835.6L154.7,843.1L166.0,850.6L177.2,860.0L192.2,867.5L205.3,878.7L214.7,882.5L231.0,890.0L237.2,893.9L277.4,909.3L295.0,932.5L357.5,938.8L411.2,943.8L447.5,948.8L470.0,952.5L510.0,962.5L547.5,969.8" fill="none" stroke="#009999" stroke-width="3.0" stroke-linejoin="round"/><path d="M134.6,828.1L122.6,835.0L122.6,821.2Z" fill="none" stroke="#009999" stroke-width="2.80"/><path d="M213.3,878.7L201.3,885.6L201.3,871.8Z" fill="none" stroke="#009999" stroke-width="2.80"/><path d="M211.1,878.4L199.1,885.3L199.1,871.5Z" fill="none" stroke="#009999" stroke-width="2.80"/><path d="M419.2,943.8L407.2,950.7L407.2,936.8Z" fill="none" stroke="#009999" stroke-width="2.80"/><path d="M478.0,952.5L466.0,959.4L466.0,945.6Z" fill="none" stroke="#009999" stroke-width="2.80"/><path d="M61.0,882.5L73.2,883.4L85.4,886.2L98.5,892.8L117.2,897.5L136.0,901.2L141.6,905.0L154.7,909.6L166.0,912.5L192.2,918.1L211.0,921.8L231.0,923.7L231.0,924.8L277.4,931.0L307.5,936.2L360.0,950.0L420.0,953.8L476.2,955.0L511.2,959.4L547.5,969.8" fill="none" stroke="#9966cc" stroke-width="3.0" stroke-linejoin="round"/><path d="M73.2,873.8L75.4,880.3L82.3,880.4L76.8,884.6L78.8,891.2L73.2,887.2L67.5,891.2L69.5,884.6L64.1,880.4L70.9,880.3Z" fill="#9966cc" stroke="#9966cc" stroke-width="1"/><path d="M166.0,902.9L168.2,909.3L175.1,909.5L169.6,913.6L171.6,920.2L166.0,916.3L160.3,920.2L162.3,913.6L156.8,909.5L163.7,909.3Z" fill="#9966cc" stroke="#9966cc" stroke-width="1"/><path d="M278.8,922.9L281.0,929.4L287.9,929.5L282.4,933.7L284.4,940.3L278.8,936.3L273.1,940.3L275.1,933.7L269.6,929.5L276.5,929.4Z" fill="#9966cc" stroke="#9966cc" stroke-width="1"/><path d="M360.0,940.4L362.3,946.9L369.1,947.0L363.7,951.2L365.6,957.8L360.0,953.8L354.4,957.8L356.3,951.2L350.9,947.0L357.7,946.9Z" fill="#9966cc" stroke="#9966cc" stroke-width="1"/><path d="M426.2,939.1L428.5,945.6L435.4,945.8L429.9,949.9L431.9,956.5L426.2,952.6L420.6,956.5L422.6,949.9L417.1,945.8L424.0,945.6Z" fill="#9966cc" stroke="#9966cc" stroke-width="1"/><path d="M476.2,945.4L478.5,951.9L485.4,952.0L479.9,956.2L481.9,962.8L476.2,958.8L470.6,962.8L472.6,956.2L467.1,952.0L474.0,951.9Z" fill="#9966cc" stroke="#9966cc" stroke-width="1"/><path d="M511.2,949.8L513.5,956.3L520.4,956.4L514.9,960.6L516.9,967.1L511.2,963.2L505.6,967.1L507.6,960.6L502.1,956.4L509.0,956.3Z" fill="#9966cc" stroke="#9966cc" stroke-width="1"/><path d="M61.0,639.4L66.6,643.1L68.5,650.6L79.7,658.1L93.8,667.5L100.4,678.7L109.7,686.2L119.1,697.5L122.9,708.7L132.2,716.2L141.6,725.6L149.1,744.3L156.6,749.9L166.0,761.2L177.2,772.4L184.7,783.7L192.2,798.1L211.0,818.7L229.7,839.4L229.4,842.8L261.9,872.2L277.4,881.5L320.0,932.5L370.0,937.5L420.0,941.2L447.5,952.5L497.5,961.2L535.0,967.5L547.5,969.8" fill="none" stroke="#6699cc" stroke-width="3.0" stroke-linejoin="round"/><path d="M93.8,659.5L100.7,671.5L86.9,671.5Z" fill="none" stroke="#6699cc" stroke-width="2.80"/><path d="M149.1,736.3L156.0,748.3L142.2,748.3Z" fill="none" stroke="#6699cc" stroke-width="2.80"/><path d="M192.2,790.1L199.1,802.1L185.3,802.1Z" fill="none" stroke="#6699cc" stroke-width="2.80"/><path d="M229.7,831.4L236.6,843.4L222.8,843.4Z" fill="none" stroke="#6699cc" stroke-width="2.80"/><path d="M229.4,834.8L236.3,846.8L222.5,846.8Z" fill="none" stroke="#6699cc" stroke-width="2.80"/><path d="M261.9,864.2L268.8,876.2L255.0,876.2Z" fill="none" stroke="#6699cc" stroke-width="2.80"/><path d="M61.0,702.2L70.4,710.6L79.7,717.1L89.1,723.7L98.5,733.1L111.6,740.6L117.2,749.9L128.5,757.4L143.5,771.5L154.7,783.7L158.5,788.7L169.7,800.0L181.0,809.4L188.5,815.0L199.7,824.4L211.0,831.9L224.1,843.1L231.0,850.6L234.1,853.6L261.9,875.3L277.4,884.6L295.0,931.2L357.5,937.5L420.0,945.0L460.0,955.0L510.0,962.5L547.5,969.8" fill="none" stroke="#4d6399" stroke-width="3.0" stroke-linejoin="round"/><circle cx="79.7" cy="717.1" r="5.6" fill="#4d6399" stroke="#4d6399" stroke-width="1"/><circle cx="143.5" cy="771.5" r="5.6" fill="#4d6399" stroke="#4d6399" stroke-width="1"/><circle cx="188.5" cy="815.0" r="5.6" fill="#4d6399" stroke="#4d6399" stroke-width="1"/><circle cx="234.1" cy="853.6" r="5.6" fill="#4d6399" stroke="#4d6399" stroke-width="1"/><path d="M61.0,745.3L66.6,749.9L70.4,757.4L79.7,764.9L89.1,770.6L98.5,778.1L104.1,785.0L106.0,788.7L117.2,798.1L128.5,807.5L145.3,821.5L154.7,828.1L166.0,833.7L181.0,845.0L194.1,856.2L207.2,863.7L220.3,871.2L231.0,876.8L231.0,879.9L261.9,897.0L277.4,906.3L307.5,927.5L357.5,936.2L420.0,947.5L460.0,960.0L510.0,965.0L547.5,969.8" fill="none" stroke="#ff6666" stroke-width="3.0" stroke-linejoin="round"/><path d="M90.5,778.1L102.5,771.1L102.5,785.0Z" fill="none" stroke="#ff6666" stroke-width="2.80"/><path d="M137.3,821.5L149.3,814.6L149.3,828.5Z" fill="none" stroke="#ff6666" stroke-width="2.80"/><path d="M186.1,856.2L198.1,849.3L198.1,863.2Z" fill="none" stroke="#ff6666" stroke-width="2.80"/><path d="M223.0,879.9L235.0,873.0L235.0,886.9Z" fill="none" stroke="#ff6666" stroke-width="2.80"/><path d="M527.0,967.5L539.0,960.6L539.0,974.4Z" fill="none" stroke="#ff6666" stroke-width="2.80"/><path d="M61.0,729.3L72.2,736.8L83.5,749.9L94.7,757.4L106.0,764.9L117.2,774.3L126.6,783.7L139.7,796.2L151.0,805.6L166.0,815.0L181.0,826.2L192.2,835.6L203.5,846.9L214.7,856.2L225.9,863.7L231.0,865.6L237.2,869.1L269.7,890.8L280.5,897.0L307.5,931.2L385.0,941.2L420.0,945.0L432.5,948.8L485.0,957.5L535.0,966.2L547.5,969.8" fill="none" stroke="#6666ff" stroke-width="3.0" stroke-linejoin="round"/><path d="M126.6,775.5L129.0,779.6L133.7,779.6L131.3,783.7L133.7,787.8L129.0,787.8L126.6,791.9L124.2,787.8L119.5,787.8L121.9,783.7L119.5,779.6L124.2,779.6Z" fill="#6666ff" stroke="#6666ff" stroke-width="1"/><path d="M203.5,838.7L205.8,842.8L210.6,842.8L208.2,846.9L210.6,851.0L205.8,850.9L203.5,855.1L201.1,850.9L196.4,851.0L198.7,846.9L196.4,842.8L201.1,842.8Z" fill="#6666ff" stroke="#6666ff" stroke-width="1"/><path d="M203.1,839.2L205.5,843.3L210.2,843.3L207.8,847.4L210.2,851.5L205.5,851.5L203.1,855.6L200.7,851.5L196.0,851.5L198.4,847.4L196.0,843.3L200.7,843.3Z" fill="#6666ff" stroke="#6666ff" stroke-width="1"/><path d="M269.7,882.6L272.0,886.7L276.8,886.7L274.4,890.8L276.8,894.9L272.0,894.9L269.7,899.0L267.3,894.9L262.6,894.9L264.9,890.8L262.6,886.7L267.3,886.7Z" fill="#6666ff" stroke="#6666ff" stroke-width="1"/><path d="M385.0,933.0L387.4,937.2L392.1,937.1L389.7,941.2L392.1,945.4L387.4,945.3L385.0,949.5L382.6,945.3L377.9,945.4L380.3,941.2L377.9,937.1L382.6,937.2Z" fill="#6666ff" stroke="#6666ff" stroke-width="1"/><path d="M432.5,940.5L434.9,944.7L439.6,944.6L437.2,948.8L439.6,952.9L434.9,952.8L432.5,957.0L430.1,952.8L425.4,952.9L427.8,948.8L425.4,944.6L430.1,944.7Z" fill="#6666ff" stroke="#6666ff" stroke-width="1"/><path d="M61.0,712.5L64.7,727.5L72.2,738.7L83.5,746.2L87.2,763.1L94.7,772.4L104.1,783.7L109.7,792.5L117.2,801.9L122.9,807.5L136.0,816.9L147.2,830.0L154.7,837.5L163.2,843.1L177.2,850.6L192.2,860.0L201.6,867.5L211.0,876.8L222.2,882.5L231.0,888.1L231.0,890.8L254.2,901.6L277.4,912.4L320.0,936.2L370.0,942.5L420.0,947.5L460.0,960.0L510.0,965.0L547.5,969.8" fill="none" stroke="#ff66cc" stroke-width="3.0" stroke-linejoin="round"/><path d="M83.5,754.2L76.6,742.2L90.4,742.2Z" fill="none" stroke="#ff66cc" stroke-width="2.80"/><path d="M117.2,809.9L110.3,797.9L124.2,797.9Z" fill="none" stroke="#ff66cc" stroke-width="2.80"/><path d="M163.2,851.1L156.2,839.1L170.1,839.1Z" fill="none" stroke="#ff66cc" stroke-width="2.80"/><path d="M211.0,884.8L204.0,872.8L217.9,872.8Z" fill="none" stroke="#ff66cc" stroke-width="2.80"/><path d="M212.4,884.8L205.5,872.8L219.3,872.8Z" fill="none" stroke="#ff66cc" stroke-width="2.80"/><path d="M254.2,909.6L247.3,897.6L261.1,897.6Z" fill="none" stroke="#ff66cc" stroke-width="2.80"/><path d="M61.0,830.0L69.4,836.5L83.5,841.2L91.0,846.9L109.7,856.2L126.6,863.7L141.6,871.2L154.7,880.6L166.9,886.2L182.8,893.7L201.6,901.2L220.3,908.7L231.0,912.5L244.9,917.1L277.4,924.8L321.2,934.4L370.0,940.0L420.0,945.0L460.0,960.0L510.0,965.0L547.5,969.8" fill="none" stroke="#66cc66" stroke-width="3.0" stroke-linejoin="round"/><path d="M63.6,830.7L75.2,842.3M63.6,842.3L75.2,830.7" stroke="#66cc66" stroke-width="2.80"/><path d="M161.1,880.4L172.7,892.0M161.1,892.0L172.7,880.4" stroke="#66cc66" stroke-width="2.80"/><path d="M239.1,911.3L250.7,922.9M239.1,922.9L250.7,911.3" stroke="#66cc66" stroke-width="2.80"/><path d="M315.4,928.6L327.1,940.2M315.4,940.2L327.1,928.6" stroke="#66cc66" stroke-width="2.80"/><path d="M61.0,865.6L79.7,876.8L98.5,886.2L117.2,891.8L136.0,899.3L154.7,908.7L173.5,916.2L192.2,921.8L211.0,925.6L231.0,929.3L277.4,934.1L307.5,945.0L345.0,950.0L370.0,953.8L395.0,956.2L420.0,958.8L460.0,963.8L510.0,967.5L547.5,969.8" fill="none" stroke="#77ac30" stroke-width="3.0" stroke-linejoin="round" stroke-dasharray="9.3,9.3"/><path d="M61.0,906.8L79.7,910.6L98.5,916.2L117.2,920.0L136.0,923.7L154.7,927.5L173.5,931.2L192.2,934.9L211.0,938.7L231.0,941.5L231.0,941.9L277.4,948.0L320.0,952.5L370.0,957.5L420.0,961.2L460.0,965.0L510.0,968.1L547.5,969.8" fill="none" stroke="#00ff00" stroke-width="3.0" stroke-linejoin="round"/><path d="M61.0,913.4L79.7,918.1L98.5,923.7L117.2,927.5L136.0,932.1L154.7,934.9L173.5,937.8L192.2,940.6L211.0,943.4L231.0,946.2L231.0,948.0L277.4,954.2L320.0,956.9L370.0,961.2L420.0,965.0L472.5,966.2L510.0,968.1L547.5,969.8" fill="none" stroke="#0000ff" stroke-width="3.0" stroke-linejoin="round"/><path d="M61.0,892.8L79.7,895.6L98.5,899.3L117.2,902.1L136.0,906.8L154.7,911.5L173.5,915.3L192.2,918.1L211.0,921.8L231.0,925.6L270.0,933.1L320.0,940.0L370.0,945.6L420.0,951.9L460.0,957.5L510.0,964.4L547.5,969.8" fill="none" stroke="#00ffff" stroke-width="3.0" stroke-linejoin="round"/><path d="M61.0,899.3L79.7,902.1L98.5,905.0L117.2,908.7L136.0,912.5L154.7,916.2L173.5,919.0L192.2,921.8L211.0,924.6L231.0,928.4L270.0,934.4L320.0,941.2L370.0,946.2L420.0,952.5L460.0,956.2L510.0,963.1L547.5,970.0L547.5,969.8" fill="none" stroke="#000000" stroke-width="3.0" stroke-linejoin="round"/><path d="M61.0,969.8L300.0,969.5L345.0,965.0L370.0,960.0L388.8,952.5L402.5,945.0L417.5,931.2L410.0,936.2L417.5,931.2L422.5,923.8" fill="none" stroke="#6666a3" stroke-width="3.0" stroke-linejoin="round" stroke-dasharray="9.3,9.3"/></g><text transform="translate(54.27,976.15) scale(1,1.12)" class="tk" text-anchor="end" style="font-size:14.62px">0</text><text transform="translate(54.27,899.29) scale(1,1.12)" class="tk" text-anchor="end" style="font-size:14.62px">0.05</text><text transform="translate(54.27,822.43) scale(1,1.12)" class="tk" text-anchor="end" style="font-size:14.62px">0.1</text><text transform="translate(54.27,745.57) scale(1,1.12)" class="tk" text-anchor="end" style="font-size:14.62px">0.15</text><text transform="translate(54.27,668.71) scale(1,1.12)" class="tk" text-anchor="end" style="font-size:14.62px">0.2</text><text transform="translate(54.27,591.85) scale(1,1.12)" class="tk" text-anchor="end" style="font-size:14.62px">0.25</text><text transform="translate(61.00,994.50) scale(1,1.12)" class="tk" text-anchor="middle" style="font-size:14.62px">10<tspan dy="-5.96" style="font-size:11.35px">-6</tspan></text><text transform="translate(142.08,994.50) scale(1,1.12)" class="tk" text-anchor="middle" style="font-size:14.62px">10<tspan dy="-5.96" style="font-size:11.35px">-5</tspan></text><text transform="translate(223.17,994.50) scale(1,1.12)" class="tk" text-anchor="middle" style="font-size:14.62px">10<tspan dy="-5.96" style="font-size:11.35px">-4</tspan></text><text transform="translate(304.25,994.50) scale(1,1.12)" class="tk" text-anchor="middle" style="font-size:14.62px">10<tspan dy="-5.96" style="font-size:11.35px">-3</tspan></text><text transform="translate(385.33,994.50) scale(1,1.12)" class="tk" text-anchor="middle" style="font-size:14.62px">10<tspan dy="-5.96" style="font-size:11.35px">-2</tspan></text><text transform="translate(466.42,994.50) scale(1,1.12)" class="tk" text-anchor="middle" style="font-size:14.62px">10<tspan dy="-5.96" style="font-size:11.35px">-1</tspan></text><text transform="translate(547.50,994.50) scale(1,1.12)" class="tk" text-anchor="middle" style="font-size:14.62px">10<tspan dy="-5.96" style="font-size:11.35px">0</tspan></text><text transform="translate(304.25,1016.00) scale(1,1.12)" class="lb" text-anchor="middle" style="font-size:16.50px">FAR</text><text transform="translate(17.0,777.6) rotate(-90) scale(1,1.12)" text-anchor="middle" class="lb" style="font-size:16.5px">FRR</text><rect x="276.25" y="555.40" width="268.55" height="371.60" fill="#fff" stroke="#262626" stroke-width="1.1"/><path d="M280.87,566.31h44.44" stroke="#2e9a2e" stroke-width="3.17"/><rect x="298.3" y="561.5" width="9.6" height="9.6" fill="none" stroke="#2e9a2e" stroke-width="2.69"/><text transform="translate(329.64,571.89) scale(1,1.12)" class="lg" style="font-size:13.47px">IrisCode (OSIRIS)</text><path d="M280.87,586.61h44.44" stroke="#3399cc" stroke-width="3.17"/><path d="M303.1,578.7L308.7,586.6L303.1,594.5L297.5,586.6Z" fill="none" stroke="#3399cc" stroke-width="2.69"/><text transform="translate(329.64,594.69) scale(1,1.12)" class="lg" style="font-size:13.47px">O<tspan dx="1.06" dy="-6.06" font-size="11.06">2</tspan><tspan dx="1.06" dy="6.06">PT</tspan></text><path d="M280.87,606.90h44.44" stroke="#edb120" stroke-width="3.17"/><circle cx="303.1" cy="606.9" r="5.6" fill="none" stroke="#edb120" stroke-width="2.69"/><text transform="translate(329.64,612.48) scale(1,1.12)" class="lg" style="font-size:13.47px">OM</text><path d="M280.87,625.38h44.44" stroke="#bfbf00" stroke-width="3.17"/><path d="M296.5,625.4H309.6M303.1,618.8V631.9M298.5,620.8L307.7,630.0M298.5,630.0L307.7,620.8" stroke="#bfbf00" stroke-width="2.69"/><circle cx="303.1" cy="625.4" r="3.1" fill="#bfbf00"/><text transform="translate(329.64,630.95) scale(1,1.12)" class="lg" style="font-size:13.47px">NAS</text><path d="M280.87,643.85h44.44" stroke="#ff9966" stroke-width="3.17"/><path d="M295.8,643.8H310.4M303.1,636.5V651.2" stroke="#ff9966" stroke-width="2.69"/><text transform="translate(329.64,649.43) scale(1,1.12)" class="lg" style="font-size:13.47px">FeatNet</text><path d="M280.87,662.32h44.44" stroke="#009999" stroke-width="3.17"/><path d="M310.8,662.3L299.2,669.0L299.2,655.7Z" fill="none" stroke="#009999" stroke-width="2.69"/><text transform="translate(329.64,667.90) scale(1,1.12)" class="lg" style="font-size:13.47px">DualSANet</text><path d="M280.87,680.79h44.44" stroke="#9966cc" stroke-width="3.17"/><path d="M303.1,671.6L305.3,677.8L311.9,677.9L306.6,681.9L308.5,688.3L303.1,684.5L297.7,688.3L299.6,681.9L294.3,677.9L300.9,677.8Z" fill="#9966cc" stroke="#9966cc" stroke-width="1"/><text transform="translate(329.64,686.37) scale(1,1.12)" class="lg" style="font-size:13.47px">ConvOM</text><path d="M280.87,699.26h44.44" stroke="#6699cc" stroke-width="3.17"/><path d="M303.1,691.6L309.8,703.1L296.4,703.1Z" fill="none" stroke="#6699cc" stroke-width="2.69"/><text transform="translate(329.64,704.84) scale(1,1.12)" class="lg" style="font-size:13.47px">DGR</text><path d="M280.87,717.73h44.44" stroke="#4d6399" stroke-width="3.17"/><circle cx="303.1" cy="717.7" r="5.4" fill="#4d6399" stroke="#4d6399" stroke-width="1"/><text transform="translate(329.64,723.31) scale(1,1.12)" class="lg" style="font-size:13.47px">CSIN</text><path d="M280.87,736.20h44.44" stroke="#ff6666" stroke-width="3.17"/><path d="M295.4,736.2L306.9,729.5L306.9,742.9Z" fill="none" stroke="#ff6666" stroke-width="2.69"/><text transform="translate(329.64,741.78) scale(1,1.12)" class="lg" style="font-size:13.47px">CM</text><path d="M280.87,754.67h44.44" stroke="#6666ff" stroke-width="3.17"/><path d="M303.1,746.8L305.4,750.7L309.9,750.7L307.6,754.7L309.9,758.6L305.4,758.6L303.1,762.6L300.8,758.6L296.3,758.6L298.5,754.7L296.3,750.7L300.8,750.7Z" fill="#6666ff" stroke="#6666ff" stroke-width="1"/><text transform="translate(329.64,760.25) scale(1,1.12)" class="lg" style="font-size:13.47px">ComplexIrisNet</text><path d="M280.87,773.14h44.44" stroke="#ff66cc" stroke-width="3.17"/><path d="M303.1,780.8L296.4,769.3L309.8,769.3Z" fill="none" stroke="#ff66cc" stroke-width="2.69"/><text transform="translate(329.64,778.72) scale(1,1.12)" class="lg" style="font-size:13.47px">UE-UGCL</text><path d="M280.87,791.61h44.44" stroke="#66cc66" stroke-width="3.17"/><path d="M297.5,786.0L308.7,797.2M297.5,797.2L308.7,786.0" stroke="#66cc66" stroke-width="2.69"/><text transform="translate(329.64,797.19) scale(1,1.12)" class="lg" style="font-size:13.47px">SO-IrisNet</text><path d="M280.87,810.08h44.44" stroke="#77ac30" stroke-width="3.17" stroke-dasharray="8.85,8.95"/><text transform="translate(329.64,815.66) scale(1,1.12)" class="lg" style="font-size:13.47px">UGRAA-Net</text><path d="M280.87,830.38h44.44" stroke="#00ff00" stroke-width="3.17"/><text transform="translate(329.64,838.46) scale(1,1.12)" class="lg" style="font-size:13.47px">S<tspan dx="1.06" dy="-6.06" font-size="11.06">3</tspan><tspan dx="1.06" dy="6.06">RAformer (Ours)</tspan></text><path d="M280.87,852.50h44.44" stroke="#0000ff" stroke-width="3.17"/><text transform="translate(329.64,860.58) scale(1,1.12)" class="lg" style="font-size:13.47px">S<tspan dx="1.06" dy="-6.06" font-size="11.06">3</tspan><tspan dx="1.06" dy="6.06">RAformer-Base (Ours)</tspan></text><path d="M280.87,874.63h44.44" stroke="#00ffff" stroke-width="3.17"/><text transform="translate(329.64,882.71) scale(1,1.12)" class="lg" style="font-size:13.47px">S<tspan dx="1.06" dy="-6.06" font-size="11.06">3</tspan><tspan dx="1.06" dy="6.06">RAformer-CrossDB (Ours)</tspan></text><path d="M280.87,896.76h44.44" stroke="#000000" stroke-width="3.17"/><text transform="translate(329.64,904.84) scale(1,1.12)" class="lg" style="font-size:13.47px">S<tspan dx="1.06" dy="-6.06" font-size="11.06">3</tspan><tspan dx="1.06" dy="6.06">RAformer-Base-CrossDB (Ours)</tspan></text><path d="M280.87,917.05h44.44" stroke="#6666a3" stroke-width="3.17" stroke-dasharray="8.85,8.95"/><text transform="translate(329.64,922.63) scale(1,1.12)" class="lg" style="font-size:13.47px">EER curve</text><text x="132.0" y="1059.5" class="cap" textLength="29.3" lengthAdjust="spacingAndGlyphs">(c)</text><text x="177.3" y="1059.5" class="cap" textLength="253.4" lengthAdjust="spacingAndGlyphs">CASIA-IrisV4-Lamp.</text><path d="M677.00,967.5v-5M677.00,567.5v5M702.40,967.5v-3M702.40,567.5v3M717.25,967.5v-3M717.25,567.5v3M727.79,967.5v-3M727.79,567.5v3M735.97,967.5v-3M735.97,567.5v3M742.65,967.5v-3M742.65,567.5v3M748.30,967.5v-3M748.30,567.5v3M753.19,967.5v-3M753.19,567.5v3M757.51,967.5v-3M757.51,567.5v3M761.37,967.5v-5M761.37,567.5v5M786.76,967.5v-3M786.76,567.5v3M801.62,967.5v-3M801.62,567.5v3M812.16,967.5v-3M812.16,567.5v3M820.34,967.5v-3M820.34,567.5v3M827.02,967.5v-3M827.02,567.5v3M832.66,967.5v-3M832.66,567.5v3M837.56,967.5v-3M837.56,567.5v3M841.87,967.5v-3M841.87,567.5v3M845.73,967.5v-5M845.73,567.5v5M871.13,967.5v-3M871.13,567.5v3M885.99,967.5v-3M885.99,567.5v3M896.53,967.5v-3M896.53,567.5v3M904.70,967.5v-3M904.70,567.5v3M911.38,967.5v-3M911.38,567.5v3M917.03,967.5v-3M917.03,567.5v3M921.92,967.5v-3M921.92,567.5v3M926.24,967.5v-3M926.24,567.5v3M930.10,967.5v-5M930.10,567.5v5M955.50,967.5v-3M955.50,567.5v3M970.35,967.5v-3M970.35,567.5v3M980.89,967.5v-3M980.89,567.5v3M989.07,967.5v-3M989.07,567.5v3M995.75,967.5v-3M995.75,567.5v3M1001.40,967.5v-3M1001.40,567.5v3M1006.29,967.5v-3M1006.29,567.5v3M1010.61,967.5v-3M1010.61,567.5v3M1014.47,967.5v-5M1014.47,567.5v5M1039.86,967.5v-3M1039.86,567.5v3M1054.72,967.5v-3M1054.72,567.5v3M1065.26,967.5v-3M1065.26,567.5v3M1073.44,967.5v-3M1073.44,567.5v3M1080.12,967.5v-3M1080.12,567.5v3M1085.76,967.5v-3M1085.76,567.5v3M1090.66,967.5v-3M1090.66,567.5v3M1094.97,967.5v-3M1094.97,567.5v3M1098.83,967.5v-5M1098.83,567.5v5M1124.23,967.5v-3M1124.23,567.5v3M1139.09,967.5v-3M1139.09,567.5v3M1149.63,967.5v-3M1149.63,567.5v3M1157.80,967.5v-3M1157.80,567.5v3M1164.48,967.5v-3M1164.48,567.5v3M1170.13,967.5v-3M1170.13,567.5v3M1175.02,967.5v-3M1175.02,567.5v3M1179.34,967.5v-3M1179.34,567.5v3M1183.20,967.5v-5M1183.20,567.5v5M677.0,967.50h5M1183.2,967.50h-5M677.0,914.17h5M1183.2,914.17h-5M677.0,860.83h5M1183.2,860.83h-5M677.0,807.50h5M1183.2,807.50h-5M677.0,754.17h5M1183.2,754.17h-5M677.0,700.83h5M1183.2,700.83h-5M677.0,647.50h5M1183.2,647.50h-5M677.0,594.17h5M1183.2,594.17h-5" stroke="#262626" stroke-width="1.1" fill="none"/><rect x="677.0" y="567.5" width="506.2" height="400.0" fill="none" stroke="#262626" stroke-width="1.3"/><clipPath id="cpd"><rect x="677.0" y="566.5" width="509.2" height="403.0"/></clipPath><g clip-path="url(#cpd)"><path d="M692.0,567.0L697.6,570.7L707.0,572.6L720.1,574.5L727.6,583.9L738.9,589.5L755.7,597.0L770.7,604.5L782.0,612.0L789.5,617.6L798.8,623.2L812.0,630.7L827.0,642.0L838.2,651.3L847.0,658.8L855.6,663.9L868.7,674.2L879.9,685.5L891.2,694.8L901.8,706.1L932.4,737.9L1022.4,835.8L1028.8,843.7L1038.3,853.3L1049.5,867.6L1065.4,888.3L1081.4,907.5L1100.0,926.6L1124.6,945.6L1142.5,956.3L1160.3,963.4L1183.4,967.9L1183.0,967.5" fill="none" stroke="#bfbf00" stroke-width="3.0" stroke-linejoin="round"/><path d="M720.8,583.9H734.4M727.6,577.1V590.7M722.8,579.1L732.4,588.7M722.8,588.7L732.4,579.1" stroke="#bfbf00" stroke-width="2.80"/><circle cx="727.6" cy="583.9" r="3.2" fill="#bfbf00"/><path d="M792.0,623.2H805.6M798.8,616.4V630.0M794.0,618.4L803.6,628.0M794.0,628.0L803.6,618.4" stroke="#bfbf00" stroke-width="2.80"/><circle cx="798.8" cy="623.2" r="3.2" fill="#bfbf00"/><path d="M848.8,663.9H862.4M855.6,657.1V670.7M850.8,659.1L860.4,668.7M850.8,668.7L860.4,659.1" stroke="#bfbf00" stroke-width="2.80"/><circle cx="855.6" cy="663.9" r="3.2" fill="#bfbf00"/><path d="M1031.5,853.3H1045.1M1038.3,846.5V860.1M1033.5,848.5L1043.2,858.1M1033.5,858.1L1043.2,848.5" stroke="#bfbf00" stroke-width="2.80"/><circle cx="1038.3" cy="853.3" r="3.2" fill="#bfbf00"/><path d="M677.0,589.5L695.7,593.2L705.1,595.1L712.6,604.5L729.5,610.1L738.9,620.4L744.5,628.9L759.5,634.5L767.0,640.1L774.5,645.7L787.6,653.2L804.5,663.5L815.7,670.1L830.7,679.5L840.1,687.0L847.0,694.5L857.5,706.1L872.4,719.2L885.5,728.5L901.8,737.9L1000.1,835.8L1012.9,846.9L1027.2,861.3L1041.5,875.6L1057.5,891.5L1070.2,904.3L1089.3,920.2L1100.0,929.8L1133.5,952.7L1151.4,959.8L1183.4,967.9L1183.0,967.5" fill="none" stroke="#ff9966" stroke-width="3.0" stroke-linejoin="round"/><path d="M731.3,620.4H746.5M738.9,612.8V628.0" stroke="#ff9966" stroke-width="2.80"/><path d="M796.9,663.5H812.1M804.5,655.9V671.1" stroke="#ff9966" stroke-width="2.80"/><path d="M1019.6,861.3H1034.8M1027.2,853.7V868.9" stroke="#ff9966" stroke-width="2.80"/><path d="M1062.6,904.3H1077.8M1070.2,896.7V911.9" stroke="#ff9966" stroke-width="2.80"/><path d="M677.0,599.8L688.2,602.6L697.6,606.4L699.5,613.9L707.9,620.4L710.7,632.6L720.1,638.2L727.6,643.9L733.2,649.5L742.6,657.0L752.0,664.5L755.7,669.2L770.7,675.7L785.7,683.2L798.8,690.7L812.0,698.2L827.0,705.7L838.2,711.3L843.8,717.0L847.0,720.7L851.8,724.8L866.8,736.0L881.8,745.4L894.9,754.8L901.8,759.8L902.3,763.7L982.6,837.4L1001.7,853.3L1020.8,874.0L1041.5,896.3L1065.4,917.0L1089.3,933.0L1100.0,939.3L1124.6,956.3L1142.5,963.4L1183.4,967.9L1183.0,967.5" fill="none" stroke="#009999" stroke-width="3.0" stroke-linejoin="round"/><path d="M715.9,620.4L703.9,627.3L703.9,613.5Z" fill="none" stroke="#009999" stroke-width="2.80"/><path d="M763.7,669.2L751.7,676.1L751.7,662.2Z" fill="none" stroke="#009999" stroke-width="2.80"/><path d="M851.8,717.0L839.8,723.9L839.8,710.0Z" fill="none" stroke="#009999" stroke-width="2.80"/><path d="M852.3,717.3L840.3,724.2L840.3,710.4Z" fill="none" stroke="#009999" stroke-width="2.80"/><path d="M1028.8,874.0L1016.8,880.9L1016.8,867.1Z" fill="none" stroke="#009999" stroke-width="2.80"/><path d="M1076.6,920.2L1064.6,927.1L1064.6,913.3Z" fill="none" stroke="#009999" stroke-width="2.80"/><path d="M677.0,663.5L686.4,664.5L688.2,674.8L699.5,676.7L712.6,681.3L727.6,685.1L738.9,690.7L746.4,698.2L755.7,700.1L767.0,705.7L778.2,711.3L789.5,718.8L800.7,728.2L812.0,733.8L827.0,739.4L838.2,746.9L847.0,752.6L847.0,754.4L856.4,763.7L875.1,780.6L902.3,793.7L958.7,837.4L977.8,848.5L1001.7,866.0L1028.8,885.2L1049.5,901.1L1070.2,917.0L1100.0,937.7L1124.6,950.9L1142.5,959.8L1183.4,967.9L1183.0,967.5" fill="none" stroke="#9966cc" stroke-width="3.0" stroke-linejoin="round"/><path d="M688.2,665.2L690.5,671.7L697.4,671.8L691.9,676.0L693.9,682.5L688.2,678.6L682.6,682.5L684.6,676.0L679.1,671.8L686.0,671.7Z" fill="#9966cc" stroke="#9966cc" stroke-width="1"/><path d="M789.5,709.2L791.7,715.7L798.6,715.9L793.1,720.0L795.1,726.6L789.5,722.7L783.8,726.6L785.8,720.0L780.3,715.9L787.2,715.7Z" fill="#9966cc" stroke="#9966cc" stroke-width="1"/><path d="M856.4,754.1L858.6,760.6L865.5,760.8L860.0,764.9L862.0,771.5L856.4,767.6L850.7,771.5L852.7,764.9L847.2,760.8L854.1,760.6Z" fill="#9966cc" stroke="#9966cc" stroke-width="1"/><path d="M977.8,838.9L980.1,845.4L986.9,845.5L981.5,849.7L983.4,856.3L977.8,852.4L972.2,856.3L974.1,849.7L968.7,845.5L975.5,845.4Z" fill="#9966cc" stroke="#9966cc" stroke-width="1"/><path d="M1028.8,875.6L1031.0,882.1L1037.9,882.2L1032.4,886.3L1034.4,892.9L1028.8,889.0L1023.1,892.9L1025.1,886.3L1019.7,882.2L1026.5,882.1Z" fill="#9966cc" stroke="#9966cc" stroke-width="1"/><path d="M1070.2,907.4L1072.5,913.9L1079.3,914.1L1073.9,918.2L1075.9,924.8L1070.2,920.9L1064.6,924.8L1066.6,918.2L1061.1,914.1L1068.0,913.9Z" fill="#9966cc" stroke="#9966cc" stroke-width="1"/><path d="M727.6,567.0L737.0,578.2L740.7,585.7L748.2,593.2L757.6,597.0L767.0,604.5L772.6,610.1L778.2,613.9L782.0,623.2L791.3,632.6L800.7,642.0L812.0,651.3L819.5,660.7L825.1,666.3L834.5,673.8L841.9,683.2L847.0,692.6L857.5,706.1L863.1,713.6L876.2,724.8L891.2,739.8L896.8,749.1L901.8,751.0L902.3,754.4L973.0,837.4L993.7,862.9L1017.6,885.2L1041.5,907.5L1065.4,926.6L1089.3,939.3L1124.6,958.1L1142.5,963.4L1183.4,967.9L1183.0,967.5" fill="none" stroke="#6699cc" stroke-width="3.0" stroke-linejoin="round"/><path d="M778.2,605.9L785.1,617.9L771.3,617.9Z" fill="none" stroke="#6699cc" stroke-width="2.80"/><path d="M825.1,658.3L832.0,670.3L818.2,670.3Z" fill="none" stroke="#6699cc" stroke-width="2.80"/><path d="M863.1,705.6L870.0,717.6L856.1,717.6Z" fill="none" stroke="#6699cc" stroke-width="2.80"/><path d="M896.8,741.1L903.7,753.1L889.9,753.1Z" fill="none" stroke="#6699cc" stroke-width="2.80"/><path d="M863.9,705.1L870.8,717.1L856.9,717.1Z" fill="none" stroke="#6699cc" stroke-width="2.80"/><path d="M677.0,634.5L686.4,635.4L697.6,638.2L710.7,642.0L725.7,647.6L733.2,653.2L748.2,660.7L767.9,670.1L782.0,683.2L793.2,690.7L804.5,700.1L813.8,711.3L827.0,722.6L838.2,731.9L847.0,737.6L847.0,737.5L859.2,746.9L875.1,760.0L892.0,781.5L902.3,790.0L922.0,812.5L950.7,846.9L969.8,864.4L993.7,883.6L1017.6,904.3L1041.5,920.2L1065.4,937.7L1081.4,947.3L1124.6,958.1L1142.5,963.4L1183.4,967.9L1183.0,967.5" fill="none" stroke="#4d6399" stroke-width="3.0" stroke-linejoin="round"/><circle cx="697.6" cy="638.2" r="5.6" fill="#4d6399" stroke="#4d6399" stroke-width="1"/><circle cx="767.9" cy="670.1" r="5.6" fill="#4d6399" stroke="#4d6399" stroke-width="1"/><circle cx="813.8" cy="711.3" r="5.6" fill="#4d6399" stroke="#4d6399" stroke-width="1"/><circle cx="859.2" cy="746.9" r="5.6" fill="#4d6399" stroke="#4d6399" stroke-width="1"/><circle cx="892.0" cy="781.5" r="5.6" fill="#4d6399" stroke="#4d6399" stroke-width="1"/><path d="M738.9,567.9L746.4,570.7L752.0,578.2L761.3,582.0L767.0,587.6L782.0,597.0L795.1,605.4L808.2,615.7L817.6,623.2L823.2,634.5L830.7,642.0L836.3,649.5L841.9,655.1L847.0,662.6L857.5,676.1L866.8,687.3L872.4,694.8L881.8,706.1L891.2,722.9L901.8,732.3L974.6,837.4L993.7,856.5L1009.7,875.6L1025.6,891.5L1041.5,907.5L1065.4,926.6L1089.3,939.3L1100.0,944.1L1124.6,958.1L1142.5,963.4L1183.4,967.9L1183.0,967.5" fill="none" stroke="#ff6666" stroke-width="3.0" stroke-linejoin="round"/><path d="M787.1,605.4L799.1,598.5L799.1,612.4Z" fill="none" stroke="#ff6666" stroke-width="2.80"/><path d="M828.3,649.5L840.3,642.5L840.3,656.4Z" fill="none" stroke="#ff6666" stroke-width="2.80"/><path d="M864.4,694.8L876.4,687.9L876.4,701.8Z" fill="none" stroke="#ff6666" stroke-width="2.80"/><path d="M677.0,567.9L686.4,568.9L688.2,574.5L699.5,578.2L712.6,582.9L722.0,591.4L733.2,600.7L738.9,606.4L752.0,612.0L763.2,617.6L768.8,624.2L778.2,630.7L789.5,634.5L800.7,643.9L808.2,653.2L817.6,660.7L827.9,666.3L836.3,673.8L847.0,683.2L848.1,685.5L861.2,698.6L874.3,714.5L885.5,722.9L901.8,734.2L902.3,733.7L993.7,835.8L1006.5,846.9L1014.4,855.7L1033.6,875.6L1057.5,901.1L1081.4,923.4L1100.0,936.2L1124.6,954.5L1142.5,961.6L1183.4,967.9L1183.0,967.5" fill="none" stroke="#6666ff" stroke-width="3.0" stroke-linejoin="round"/><path d="M712.6,574.7L715.0,578.8L719.7,578.8L717.3,582.9L719.7,587.0L715.0,587.0L712.6,591.1L710.2,587.0L705.5,587.0L707.9,582.9L705.5,578.8L710.2,578.8Z" fill="#6666ff" stroke="#6666ff" stroke-width="1"/><path d="M768.8,616.0L771.2,620.1L775.9,620.1L773.6,624.2L775.9,628.3L771.2,628.3L768.8,632.4L766.5,628.3L761.7,628.3L764.1,624.2L761.7,620.1L766.5,620.1Z" fill="#6666ff" stroke="#6666ff" stroke-width="1"/><path d="M827.9,658.1L830.3,662.2L835.0,662.2L832.6,666.3L835.0,670.4L830.3,670.4L827.9,674.5L825.5,670.4L820.8,670.4L823.2,666.3L820.8,662.2L825.5,662.2Z" fill="#6666ff" stroke="#6666ff" stroke-width="1"/><path d="M874.3,706.3L876.7,710.4L881.4,710.4L879.0,714.5L881.4,718.6L876.7,718.6L874.3,722.7L871.9,718.6L867.2,718.6L869.6,714.5L867.2,710.4L871.9,710.4Z" fill="#6666ff" stroke="#6666ff" stroke-width="1"/><path d="M875.1,706.8L877.5,710.9L882.2,710.9L879.8,715.0L882.2,719.1L877.5,719.1L875.1,723.2L872.8,719.1L868.0,719.1L870.4,715.0L868.0,710.9L872.8,710.9Z" fill="#6666ff" stroke="#6666ff" stroke-width="1"/><path d="M1014.4,847.5L1016.8,851.6L1021.6,851.6L1019.2,855.7L1021.6,859.8L1016.8,859.8L1014.4,863.9L1012.1,859.8L1007.3,859.8L1009.7,855.7L1007.3,851.6L1012.1,851.6Z" fill="#6666ff" stroke="#6666ff" stroke-width="1"/><path d="M677.0,603.6L686.4,606.4L697.6,610.1L697.6,625.1L705.1,630.7L707.0,636.4L714.5,642.0L723.9,645.7L737.0,651.3L748.2,658.8L761.3,666.3L782.0,681.3L793.2,688.8L808.2,702.0L817.6,715.1L825.1,722.6L836.3,731.9L847.0,743.2L863.9,761.9L875.1,778.7L888.2,790.0L892.9,799.3L902.3,805.0L922.0,836.8L930.0,840.5L949.1,858.1L961.9,872.4L977.8,885.2L993.7,897.9L1009.7,910.7L1025.6,923.4L1041.5,933.0L1057.5,940.9L1068.6,945.7L1124.6,961.6L1142.5,965.2L1183.4,967.9L1183.0,967.5" fill="none" stroke="#ff66cc" stroke-width="3.0" stroke-linejoin="round"/><path d="M707.0,644.4L700.1,632.4L713.9,632.4Z" fill="none" stroke="#ff66cc" stroke-width="2.80"/><path d="M782.0,689.3L775.0,677.3L788.9,677.3Z" fill="none" stroke="#ff66cc" stroke-width="2.80"/><path d="M825.1,730.6L818.2,718.6L832.0,718.6Z" fill="none" stroke="#ff66cc" stroke-width="2.80"/><path d="M863.9,769.9L856.9,757.9L870.8,757.9Z" fill="none" stroke="#ff66cc" stroke-width="2.80"/><path d="M892.9,807.3L886.0,795.3L899.9,795.3Z" fill="none" stroke="#ff66cc" stroke-width="2.80"/><path d="M949.1,866.1L942.2,854.1L956.0,854.1Z" fill="none" stroke="#ff66cc" stroke-width="2.80"/><path d="M677.0,643.9L688.2,647.6L697.6,653.2L697.6,660.7L714.5,666.3L727.6,673.8L738.9,679.5L752.0,687.0L763.2,694.5L770.7,702.0L782.0,709.5L789.5,717.0L802.6,728.2L812.0,735.7L819.5,743.2L830.7,750.7L847.0,761.9L847.0,761.9L862.0,771.2L874.2,780.6L888.2,791.8L902.3,801.2L944.3,839.0L961.9,850.1L985.8,869.2L1001.7,882.0L1012.9,891.5L1033.6,905.9L1057.5,920.2L1076.6,934.6L1100.0,945.7L1124.6,956.3L1138.9,959.8L1183.4,967.9L1183.0,967.5" fill="none" stroke="#66cc66" stroke-width="3.0" stroke-linejoin="round"/><path d="M721.8,668.0L733.4,679.6M721.8,679.6L733.4,668.0" stroke="#66cc66" stroke-width="2.80"/><path d="M796.8,722.4L808.4,734.0M796.8,734.0L808.4,722.4" stroke="#66cc66" stroke-width="2.80"/><path d="M868.4,774.8L880.0,786.4M868.4,786.4L880.0,774.8" stroke="#66cc66" stroke-width="2.80"/><path d="M938.5,833.2L950.1,844.8M938.5,844.8L950.1,833.2" stroke="#66cc66" stroke-width="2.80"/><path d="M1007.1,885.7L1018.7,897.3M1007.1,897.3L1018.7,885.7" stroke="#66cc66" stroke-width="2.80"/><path d="M1070.8,928.8L1082.4,940.4M1070.8,940.4L1082.4,928.8" stroke="#66cc66" stroke-width="2.80"/><path d="M1133.1,954.0L1144.7,965.6M1133.1,965.6L1144.7,954.0" stroke="#66cc66" stroke-width="2.80"/><path d="M677.0,694.5L695.7,703.8L714.5,713.2L733.2,726.3L752.0,739.4L770.7,750.7L789.5,761.9L800.7,767.0L808.9,772.7L827.8,785.8L847.0,799.0L865.7,808.7L884.5,821.8L902.3,835.0L922.0,846.2L933.2,856.5L953.9,867.6L977.8,882.0L1001.7,897.9L1025.6,910.7L1049.5,923.4L1073.4,933.0L1089.3,939.3L1100.0,945.7L1124.6,958.1L1142.5,961.6L1183.4,967.9L1183.0,967.5" fill="none" stroke="#77ac30" stroke-width="3.0" stroke-linejoin="round" stroke-dasharray="9.3,9.3"/><path d="M677.0,848.0L698.7,849.9L698.7,863.1L706.2,865.9L707.2,869.7L722.2,874.4L724.1,879.1L741.1,882.9L756.2,889.5L776.9,895.2L780.7,898.9L808.9,904.6L827.8,910.2L847.0,914.0L862.9,918.7L878.9,923.5L894.8,927.5L918.7,933.8L942.6,938.6L974.5,943.4L998.4,948.2L1017.0,953.0L1035.6,954.5L1053.4,957.2L1071.2,959.8L1089.0,962.5L1106.8,964.3L1124.6,966.1L1183.4,968.0" fill="none" stroke="#00ffff" stroke-width="3.0" stroke-linejoin="round"/><path d="M677.0,851.8L688.3,854.1L705.3,855.6L716.6,860.3L719.4,865.0L741.1,872.5L744.8,875.4L767.5,881.0L773.1,885.7L793.8,892.3L812.7,898.0L827.8,903.6L847.0,910.2L862.9,914.7L878.9,919.5L894.8,924.3L918.7,931.5L942.6,937.0L974.5,941.8L998.4,946.6L1017.0,950.6L1035.6,951.8L1053.4,955.4L1071.2,958.1L1089.0,960.7L1106.8,963.4L1124.6,965.2L1142.5,966.1L1183.4,967.9L1183.0,967.5" fill="none" stroke="#000000" stroke-width="3.0" stroke-linejoin="round"/><path d="M677.0,968.0L847.0,967.7L926.7,966.5L958.5,965.7L990.4,964.1L1017.0,960.9L1021.4,960.7L1044.5,955.4L1060.5,949.2L1071.2,942.0L1083.7,933.1L1094.4,920.7L1103.3,908.2L1110.4,894.0L1117.5,879.7L1122.9,863.7L1128.2,847.7L1131.8,837.0L1135.3,824.5" fill="none" stroke="#6666a3" stroke-width="3.0" stroke-linejoin="round" stroke-dasharray="9.3,9.3"/></g><text transform="translate(670.00,974.10) scale(1,1.12)" class="tk" text-anchor="end" style="font-size:15.20px">0</text><text transform="translate(670.00,920.77) scale(1,1.12)" class="tk" text-anchor="end" style="font-size:15.20px">0.1</text><text transform="translate(670.00,867.43) scale(1,1.12)" class="tk" text-anchor="end" style="font-size:15.20px">0.2</text><text transform="translate(670.00,814.10) scale(1,1.12)" class="tk" text-anchor="end" style="font-size:15.20px">0.3</text><text transform="translate(670.00,760.77) scale(1,1.12)" class="tk" text-anchor="end" style="font-size:15.20px">0.4</text><text transform="translate(670.00,707.43) scale(1,1.12)" class="tk" text-anchor="end" style="font-size:15.20px">0.5</text><text transform="translate(670.00,654.10) scale(1,1.12)" class="tk" text-anchor="end" style="font-size:15.20px">0.6</text><text transform="translate(670.00,600.77) scale(1,1.12)" class="tk" text-anchor="end" style="font-size:15.20px">0.7</text><text transform="translate(677.00,993.50) scale(1,1.12)" class="tk" text-anchor="middle" style="font-size:15.20px">10<tspan dy="-6.20" style="font-size:11.80px">-6</tspan></text><text transform="translate(761.37,993.50) scale(1,1.12)" class="tk" text-anchor="middle" style="font-size:15.20px">10<tspan dy="-6.20" style="font-size:11.80px">-5</tspan></text><text transform="translate(845.73,993.50) scale(1,1.12)" class="tk" text-anchor="middle" style="font-size:15.20px">10<tspan dy="-6.20" style="font-size:11.80px">-4</tspan></text><text transform="translate(930.10,993.50) scale(1,1.12)" class="tk" text-anchor="middle" style="font-size:15.20px">10<tspan dy="-6.20" style="font-size:11.80px">-3</tspan></text><text transform="translate(1014.47,993.50) scale(1,1.12)" class="tk" text-anchor="middle" style="font-size:15.20px">10<tspan dy="-6.20" style="font-size:11.80px">-2</tspan></text><text transform="translate(1098.83,993.50) scale(1,1.12)" class="tk" text-anchor="middle" style="font-size:15.20px">10<tspan dy="-6.20" style="font-size:11.80px">-1</tspan></text><text transform="translate(1183.20,993.50) scale(1,1.12)" class="tk" text-anchor="middle" style="font-size:15.20px">10<tspan dy="-6.20" style="font-size:11.80px">0</tspan></text><text transform="translate(930.10,1016.00) scale(1,1.12)" class="lb" text-anchor="middle" style="font-size:16.50px">FAR</text><text transform="translate(640.0,767.5) rotate(-90) scale(1,1.12)" text-anchor="middle" class="lb" style="font-size:16.5px">FRR</text><rect x="902.25" y="554.20" width="278.75" height="280.80" fill="#fff" stroke="#262626" stroke-width="1.1"/><path d="M907.05,566.50h46.20" stroke="#bfbf00" stroke-width="3.30"/><path d="M923.4,566.5H936.9M930.1,559.7V573.3M925.3,561.7L935.0,571.3M925.3,571.3L935.0,561.7" stroke="#bfbf00" stroke-width="2.80"/><circle cx="930.1" cy="566.5" r="3.2" fill="#bfbf00"/><text transform="translate(957.75,572.30) scale(1,1.12)" class="lg" style="font-size:14.00px">NAS</text><path d="M907.05,585.70h46.20" stroke="#ff9966" stroke-width="3.30"/><path d="M922.5,585.7H937.8M930.1,578.1V593.3" stroke="#ff9966" stroke-width="2.80"/><text transform="translate(957.75,591.50) scale(1,1.12)" class="lg" style="font-size:14.00px">FeatNet</text><path d="M907.05,604.90h46.20" stroke="#009999" stroke-width="3.30"/><path d="M938.1,604.9L926.1,611.8L926.1,598.0Z" fill="none" stroke="#009999" stroke-width="2.80"/><text transform="translate(957.75,610.70) scale(1,1.12)" class="lg" style="font-size:14.00px">DualSANet</text><path d="M907.05,624.10h46.20" stroke="#9966cc" stroke-width="3.30"/><path d="M930.1,614.5L932.4,621.0L939.3,621.1L933.8,625.3L935.8,631.9L930.1,627.9L924.5,631.9L926.5,625.3L921.0,621.1L927.9,621.0Z" fill="#9966cc" stroke="#9966cc" stroke-width="1"/><text transform="translate(957.75,629.90) scale(1,1.12)" class="lg" style="font-size:14.00px">ConvOM</text><path d="M907.05,643.30h46.20" stroke="#6699cc" stroke-width="3.30"/><path d="M930.1,635.3L937.1,647.3L923.2,647.3Z" fill="none" stroke="#6699cc" stroke-width="2.80"/><text transform="translate(957.75,649.10) scale(1,1.12)" class="lg" style="font-size:14.00px">DGR</text><path d="M907.05,662.50h46.20" stroke="#4d6399" stroke-width="3.30"/><circle cx="930.1" cy="662.5" r="5.6" fill="#4d6399" stroke="#4d6399" stroke-width="1"/><text transform="translate(957.75,668.30) scale(1,1.12)" class="lg" style="font-size:14.00px">CSIN</text><path d="M907.05,681.70h46.20" stroke="#ff6666" stroke-width="3.30"/><path d="M922.1,681.7L934.1,674.8L934.1,688.6Z" fill="none" stroke="#ff6666" stroke-width="2.80"/><text transform="translate(957.75,687.50) scale(1,1.12)" class="lg" style="font-size:14.00px">CM</text><path d="M907.05,700.90h46.20" stroke="#6666ff" stroke-width="3.30"/><path d="M930.1,692.7L932.5,696.8L937.3,696.8L934.9,700.9L937.3,705.0L932.5,705.0L930.1,709.1L927.8,705.0L923.0,705.0L925.4,700.9L923.0,696.8L927.8,696.8Z" fill="#6666ff" stroke="#6666ff" stroke-width="1"/><text transform="translate(957.75,706.70) scale(1,1.12)" class="lg" style="font-size:14.00px">ComplexIrisNet</text><path d="M907.05,720.10h46.20" stroke="#ff66cc" stroke-width="3.30"/><path d="M930.1,728.1L923.2,716.1L937.1,716.1Z" fill="none" stroke="#ff66cc" stroke-width="2.80"/><text transform="translate(957.75,725.90) scale(1,1.12)" class="lg" style="font-size:14.00px">UE-UGCL</text><path d="M907.05,739.30h46.20" stroke="#66cc66" stroke-width="3.30"/><path d="M924.4,733.5L935.9,745.1M924.4,745.1L935.9,733.5" stroke="#66cc66" stroke-width="2.80"/><text transform="translate(957.75,745.10) scale(1,1.12)" class="lg" style="font-size:14.00px">SO-IrisNet</text><path d="M907.05,758.50h46.20" stroke="#77ac30" stroke-width="3.30" stroke-dasharray="9.20,9.30"/><text transform="translate(957.75,764.30) scale(1,1.12)" class="lg" style="font-size:14.00px">UGRAA-Net</text><path d="M907.05,779.60h46.20" stroke="#00ffff" stroke-width="3.30"/><text transform="translate(957.75,788.00) scale(1,1.12)" class="lg" style="font-size:14.00px">S<tspan dx="1.10" dy="-6.30" font-size="11.50">3</tspan><tspan dx="1.10" dy="6.30">RAformer-CrossDB (Ours)</tspan></text><path d="M907.05,802.60h46.20" stroke="#000000" stroke-width="3.30"/><text transform="translate(957.75,811.00) scale(1,1.12)" class="lg" style="font-size:14.00px">S<tspan dx="1.10" dy="-6.30" font-size="11.50">3</tspan><tspan dx="1.10" dy="6.30">RAformer-Base-CrossDB (Ours)</tspan></text><path d="M907.05,823.70h46.20" stroke="#6666a3" stroke-width="3.30" stroke-dasharray="9.20,9.30"/><text transform="translate(957.75,829.50) scale(1,1.12)" class="lg" style="font-size:14.00px">EER curve</text><text x="745.0" y="1060.0" class="cap" textLength="33.0" lengthAdjust="spacingAndGlyphs">(d)</text><text x="794.5" y="1060.0" class="cap" textLength="277.5" lengthAdjust="spacingAndGlyphs">CASIA-IrisV4-Interval.</text>
</svg></body></html>
